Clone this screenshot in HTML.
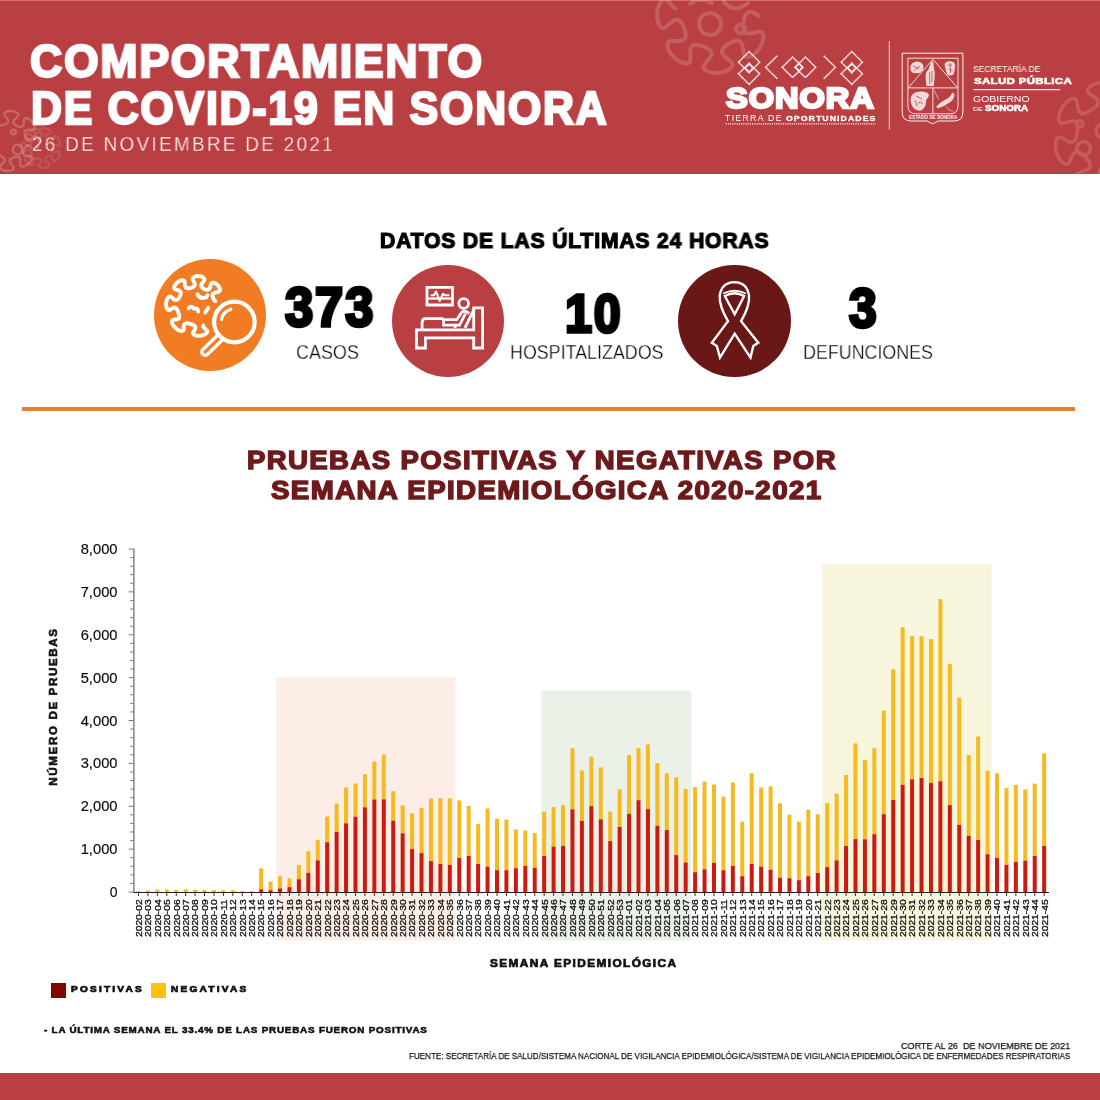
<!DOCTYPE html>
<html lang="es"><head><meta charset="utf-8"><title>COVID-19 Sonora</title>
<style>
html,body{margin:0;padding:0;background:#fff}
body{width:1100px;height:1100px;position:relative;overflow:hidden;font-family:"Liberation Sans",sans-serif}
.t{position:absolute;white-space:nowrap;line-height:1;transform-origin:0 0;font-family:"Liberation Sans",sans-serif;will-change:transform;-webkit-font-smoothing:antialiased}
svg{position:absolute;left:0;top:0}
</style></head><body>
<div style="position:absolute;left:0;top:0;width:1100px;height:174px;background:#ba3f42"></div>
<div style="position:absolute;left:0;top:0;width:1100px;height:1px;background:#d8706c"></div>
<div style="position:absolute;left:0;top:1073px;width:1100px;height:27px;background:#ba3f42"></div>
<svg width="1100" height="174" viewBox="0 0 1100 174" style="position:absolute;left:0;top:0" fill="none" stroke="#fff" stroke-linecap="round" stroke-linejoin="round">
<g opacity="0.16" stroke-width="4.0">
<path d="M758.83,15.81 L758.18,15.42 L757.52,15.01 L756.86,14.61 L756.19,14.21 L755.52,13.83 L754.85,13.47 L754.18,13.14 L753.52,12.85 L752.86,12.60 L752.22,12.39 L751.59,12.23 L750.98,12.13 L750.39,12.07 L749.82,12.08 L749.28,12.14 L748.76,12.25 L748.27,12.42 L747.81,12.65 L747.38,12.93 L746.97,13.26 L746.59,13.64 L746.24,14.06 L745.91,14.54 L745.61,15.05 L745.33,15.60 L745.07,16.19 L744.84,16.81 L744.62,17.46 L744.42,18.13 L744.23,18.82 L744.06,19.54 L743.90,20.26 L743.76,21.00 L743.64,21.74 L743.52,22.49 L743.43,23.23 L743.34,23.97 L743.28,24.70 L743.24,25.42 L743.21,26.13 L743.22,26.82 L743.24,27.49 L743.30,28.14 L743.38,28.76 L743.50,29.35 L743.65,29.91 L743.84,30.43 L744.08,30.92 L744.35,31.37 L744.66,31.78 L745.02,32.15 L745.42,32.48 L745.86,32.76 L746.35,33.00 L746.88,33.19 L747.44,33.34 L748.04,33.44 L748.68,33.50 L749.35,33.51 L750.04,33.48 L750.76,33.42 L751.49,33.32 L752.24,33.20 L752.99,33.05 L753.75,32.88 L754.51,32.70 L755.26,32.52 L756.00,32.34 L756.73,32.17 L757.44,32.03 L758.13,31.91 L758.79,31.83 L759.42,31.80 L760.02,31.82 L760.59,31.90 L761.11,32.04 L761.60,32.26 L762.03,32.56 L762.42,32.94 L762.76,33.41 L763.04,33.96 L763.26,34.60 L763.41,35.32 L763.50,36.12 L763.52,37.00 L763.47,37.95 L763.34,38.97 L763.13,40.04 L762.84,41.15 L762.47,42.31 L762.02,43.48 L761.50,44.67 L760.91,45.85 L760.24,47.03 L759.52,48.18 L758.74,49.29 L757.91,50.36 L757.04,51.37 L756.14,52.32 L755.22,53.19 L754.29,53.98 L753.36,54.69 L752.45,55.30 L751.55,55.83 L750.68,56.26 L749.85,56.60 L749.06,56.84 L748.32,56.98 L747.63,57.04 L747.00,57.01 L746.43,56.89 L745.91,56.69 L745.46,56.42 L745.06,56.07 L744.71,55.65 L744.42,55.17 L744.17,54.64 L743.95,54.05 L743.77,53.42 L743.62,52.74 L743.48,52.04 L743.36,51.31 L743.25,50.55 L743.14,49.79 L743.02,49.02 L742.89,48.25 L742.75,47.50 L742.59,46.75 L742.42,46.03 L742.21,45.33 L741.98,44.67 L741.73,44.05 L741.44,43.47 L741.13,42.94 L740.79,42.45 L740.42,42.02 L740.03,41.65 L739.61,41.33 L739.16,41.07 L738.69,40.86 L738.19,40.71 L737.68,40.61 L737.14,40.57 L736.59,40.58 L736.02,40.63 L735.43,40.73 L734.82,40.88 L734.21,41.06 L733.58,41.28 L732.94,41.53 L732.30,41.81 L731.65,42.11 L730.99,42.44 L730.33,42.79 L729.68,43.15 L729.03,43.53 L728.39,43.93 L727.75,44.33 L727.14,44.75 L726.53,45.17 L725.95,45.60 L725.40,46.04 L724.87,46.48 L724.38,46.93 L723.92,47.39 L723.50,47.85 L723.13,48.32 L722.80,48.80 L722.53,49.29 L722.30,49.78 L722.13,50.28 L722.02,50.78 L721.97,51.29 L721.98,51.81 L722.05,52.33 L722.19,52.86 L722.38,53.38 L722.64,53.91 L722.95,54.44 L723.32,54.96 L723.74,55.48 L724.21,56.00 L724.72,56.50 L725.26,57.00 L725.84,57.49 L726.44,57.97 L727.06,58.45 L727.68,58.91 L728.31,59.37 L728.92,59.82 L729.51,60.28 L730.08,60.72 L730.61,61.18 L731.09,61.63 L731.52,62.10 L731.89,62.57 L732.19,63.05 L732.41,63.55 L732.55,64.06 L732.60,64.59 L732.55,65.13 L732.40,65.69 L732.16,66.26 L731.80,66.84 L731.35,67.42 L730.78,68.01 L730.12,68.59 L729.35,69.16 L728.48,69.71 L727.52,70.23 L726.48,70.73 L725.36,71.18 L724.17,71.60 L722.92,71.96 L721.63,72.26 L720.30,72.50 L718.95,72.68 L717.60,72.80 L716.25,72.84 L714.91,72.83 L713.61,72.74 L712.36,72.60 L711.16,72.39 L710.02,72.13 L708.96,71.82 L707.99,71.47 L707.10,71.08 L706.32,70.66 L705.63,70.21 L705.05,69.73 L704.57,69.24 L704.19,68.74 L703.92,68.22 L703.74,67.70 L703.67,67.18 L703.68,66.65 L703.78,66.11 L703.96,65.58 L704.21,65.04 L704.53,64.50 L704.90,63.95 L705.32,63.40 L705.78,62.84 L706.26,62.28 L706.76,61.71 L707.28,61.13 L707.79,60.55 L708.30,59.96 L708.79,59.37 L709.25,58.77 L709.69,58.16 L710.09,57.56 L710.45,56.96 L710.76,56.36 L711.02,55.77 L711.22,55.19 L711.37,54.62 L711.46,54.06 L711.49,53.52 L711.46,52.99 L711.37,52.48 L711.23,51.99 L711.02,51.52 L710.76,51.06 L710.45,50.62 L710.08,50.20 L709.67,49.80 L709.21,49.42 L708.71,49.05 L708.17,48.69 L707.60,48.35 L707.00,48.03 L706.37,47.71 L705.72,47.41 L705.04,47.12 L704.35,46.84 L703.65,46.58 L702.94,46.32 L702.23,46.08 L701.51,45.86 L700.80,45.65 L700.09,45.47 L699.38,45.30 L698.69,45.16 L698.02,45.04 L697.35,44.95 L696.71,44.90 L696.09,44.88 L695.49,44.90 L694.91,44.95 L694.36,45.06 L693.84,45.20 L693.36,45.40 L692.90,45.64 L692.48,45.93 L692.09,46.27 L691.74,46.67 L691.42,47.11 L691.15,47.60 L690.91,48.14 L690.71,48.72 L690.54,49.34 L690.42,50.00 L690.33,50.69 L690.27,51.40 L690.24,52.14 L690.24,52.90 L690.25,53.67 L690.29,54.45 L690.33,55.23 L690.38,56.00 L690.43,56.76 L690.46,57.50 L690.48,58.22 L690.48,58.92 L690.44,59.58 L690.36,60.21 L690.23,60.79 L690.05,61.33 L689.80,61.81 L689.50,62.25 L689.12,62.62 L688.67,62.93 L688.15,63.17 L687.55,63.35 L686.87,63.45 L686.13,63.47 L685.32,63.41 L684.44,63.26 L683.51,63.04 L682.53,62.72 L681.51,62.32 L680.45,61.84 L679.38,61.27 L678.30,60.61 L677.23,59.89 L676.16,59.09 L675.13,58.23 L674.12,57.31 L673.17,56.34 L672.26,55.33 L671.43,54.30 L670.66,53.25 L669.97,52.19 L669.36,51.14 L668.83,50.11 L668.39,49.10 L668.04,48.13 L667.77,47.20 L667.59,46.33 L667.50,45.52 L667.49,44.77 L667.56,44.09 L667.71,43.48 L667.93,42.94 L668.23,42.48 L668.58,42.09 L669.00,41.76 L669.48,41.50 L670.01,41.29 L670.58,41.14 L671.20,41.04 L671.86,40.97 L672.55,40.94 L673.27,40.93 L674.02,40.94 L674.78,40.96 L675.55,40.99 L676.33,41.00 L677.10,41.01 L677.88,41.00 L678.63,40.97 L679.38,40.92 L680.09,40.84 L680.78,40.73 L681.44,40.58 L682.05,40.40 L682.63,40.18 L683.16,39.92 L683.64,39.63 L684.07,39.30 L684.46,38.94 L684.79,38.54 L685.07,38.11 L685.30,37.65 L685.48,37.15 L685.61,36.63 L685.69,36.08 L685.73,35.50 L685.73,34.91 L685.69,34.28 L685.61,33.64 L685.51,32.99 L685.37,32.31 L685.20,31.63 L685.01,30.93 L684.80,30.23 L684.57,29.52 L684.32,28.82 L684.06,28.11 L683.78,27.41 L683.49,26.72 L683.19,26.04 L682.88,25.37 L682.55,24.73 L682.22,24.11 L681.87,23.52 L681.51,22.96 L681.14,22.43 L680.75,21.94 L680.35,21.49 L679.94,21.09 L679.51,20.74 L679.06,20.44 L678.60,20.19 L678.12,20.00 L677.62,19.87 L677.11,19.80 L676.58,19.78 L676.04,19.83 L675.48,19.93 L674.92,20.10 L674.35,20.32 L673.77,20.60 L673.18,20.93 L672.59,21.30 L672.01,21.72 L671.42,22.18 L670.84,22.66 L670.26,23.17 L669.69,23.70 L669.12,24.23 L668.56,24.77 L668.01,25.29 L667.46,25.80 L666.92,26.27 L666.39,26.71 L665.85,27.10 L665.32,27.44 L664.79,27.72 L664.26,27.92 L663.74,28.04 L663.21,28.08 L662.68,28.03 L662.15,27.88 L661.63,27.63 L661.11,27.27 L660.60,26.82 L660.11,26.25 L659.63,25.59 L659.18,24.82 L658.76,23.95 L658.37,23.00 L658.02,21.95 L657.72,20.83 L657.47,19.64 L657.28,18.39 L657.15,17.10 L657.08,15.77 L657.08,14.42 L657.14,13.06 L657.27,11.71 L657.46,10.37 L657.72,9.07 L658.03,7.80 L658.40,6.60 L658.81,5.46 L659.27,4.39 L659.76,3.41 L660.28,2.52 L660.82,1.73 L661.37,1.04 L661.94,0.45 L662.51,-0.03 L663.07,-0.41 L663.63,-0.68 L664.19,-0.85 L664.73,-0.92 L665.26,-0.90 L665.78,-0.78 L666.28,-0.58 L666.78,-0.30 L667.26,0.04 L667.74,0.45 L668.21,0.92 L668.68,1.43 L669.15,1.98 L669.62,2.56 L670.10,3.15 L670.58,3.76 L671.06,4.37 L671.56,4.97 L672.06,5.55 L672.57,6.11 L673.09,6.64 L673.61,7.14 L674.14,7.59 L674.67,7.99 L675.21,8.35 L675.75,8.64"/>
<circle cx="710" cy="24" r="11"/><circle cx="740.5" cy="29" r="4.4"/>
<path d="M690,4 Q700,-4 712,3"/><path d="M724,2 Q734,14 748,3"/>
</g><g opacity="0.15" stroke-width="3.5">
<path d="M1119.65,176.12 L1119.88,175.41 L1120.08,174.70 L1120.25,174.01 L1120.37,173.34 L1120.45,172.68 L1120.48,172.06 L1120.46,171.46 L1120.39,170.90 L1120.26,170.38 L1120.08,169.89 L1119.85,169.44 L1119.56,169.03 L1119.22,168.66 L1118.82,168.33 L1118.38,168.05 L1117.90,167.80 L1117.36,167.58 L1116.79,167.40 L1116.18,167.25 L1115.53,167.14 L1114.86,167.04 L1114.15,166.98 L1113.42,166.93 L1112.67,166.90 L1111.90,166.90 L1111.12,166.90 L1110.34,166.93 L1109.55,166.96 L1108.76,167.01 L1107.98,167.07 L1107.20,167.15 L1106.45,167.24 L1105.71,167.35 L1104.99,167.47 L1104.30,167.62 L1103.64,167.78 L1103.02,167.97 L1102.43,168.19 L1101.89,168.43 L1101.39,168.71 L1100.94,169.01 L1100.55,169.35 L1100.20,169.73 L1099.91,170.14 L1099.68,170.58 L1099.50,171.06 L1099.38,171.57 L1099.32,172.11 L1099.32,172.68 L1099.37,173.28 L1099.47,173.90 L1099.63,174.55 L1099.83,175.21 L1100.08,175.88 L1100.35,176.56 L1100.66,177.25 L1100.99,177.93 L1101.34,178.62 L1101.68,179.30 L1102.03,179.97 L1102.36,180.63 L1102.66,181.27 L1102.93,181.90 L1103.15,182.51 L1103.32,183.10 L1103.43,183.67 L1103.46,184.22 L1103.42,184.74 L1103.29,185.23 L1103.06,185.70 L1102.74,186.13 L1102.31,186.52 L1101.79,186.88 L1101.16,187.19 L1100.43,187.46 L1099.60,187.67 L1098.68,187.82 L1097.68,187.91 L1096.60,187.94 L1095.45,187.90 L1094.25,187.78 L1093.00,187.59 L1091.72,187.32 L1090.42,186.98 L1089.12,186.57 L1087.83,186.09 L1086.57,185.55 L1085.34,184.95 L1084.17,184.29 L1083.06,183.60 L1082.02,182.87 L1081.06,182.12 L1080.20,181.35 L1079.43,180.58 L1078.76,179.82 L1078.20,179.07 L1077.74,178.34 L1077.39,177.64 L1077.14,176.98 L1077.00,176.35 L1076.96,175.77 L1077.02,175.23 L1077.17,174.73 L1077.41,174.28 L1077.74,173.87 L1078.13,173.50 L1078.60,173.16 L1079.13,172.85 L1079.71,172.56 L1080.33,172.30 L1081.00,172.04 L1081.69,171.80 L1082.40,171.55 L1083.12,171.31 L1083.84,171.06 L1084.56,170.79 L1085.26,170.51 L1085.94,170.22 L1086.58,169.91 L1087.19,169.57 L1087.75,169.22 L1088.27,168.85 L1088.73,168.46 L1089.13,168.04 L1089.47,167.61 L1089.74,167.17 L1089.95,166.70 L1090.10,166.22 L1090.18,165.73 L1090.19,165.22 L1090.15,164.70 L1090.04,164.17 L1089.88,163.63 L1089.67,163.07 L1089.40,162.51 L1089.09,161.94 L1088.73,161.37 L1088.34,160.79 L1087.91,160.20 L1087.46,159.61 L1086.98,159.02 L1086.48,158.42 L1085.96,157.83 L1085.43,157.25 L1084.89,156.67 L1084.34,156.11 L1083.78,155.56 L1083.22,155.03 L1082.67,154.53 L1082.11,154.05 L1081.55,153.61 L1081.00,153.20 L1080.46,152.83 L1079.91,152.51 L1079.38,152.24 L1078.84,152.02 L1078.32,151.85 L1077.80,151.75 L1077.29,151.70 L1076.79,151.73 L1076.30,151.81 L1075.81,151.97 L1075.34,152.19 L1074.88,152.47 L1074.44,152.82 L1074.01,153.23 L1073.60,153.69 L1073.20,154.21 L1072.82,154.78 L1072.46,155.39 L1072.11,156.03 L1071.78,156.70 L1071.46,157.39 L1071.15,158.09 L1070.86,158.80 L1070.56,159.49 L1070.27,160.18 L1069.97,160.83 L1069.67,161.45 L1069.35,162.03 L1069.01,162.56 L1068.65,163.02 L1068.26,163.42 L1067.84,163.74 L1067.39,163.98 L1066.90,164.13 L1066.37,164.19 L1065.80,164.15 L1065.20,164.00 L1064.57,163.75 L1063.90,163.39 L1063.22,162.93 L1062.51,162.35 L1061.80,161.67 L1061.08,160.89 L1060.37,160.01 L1059.68,159.03 L1059.02,157.98 L1058.39,156.84 L1057.80,155.65 L1057.26,154.40 L1056.79,153.11 L1056.37,151.80 L1056.02,150.47 L1055.75,149.15 L1055.55,147.85 L1055.42,146.57 L1055.36,145.34 L1055.37,144.17 L1055.45,143.07 L1055.59,142.04 L1055.78,141.10 L1056.03,140.25 L1056.33,139.51 L1056.67,138.86 L1057.05,138.32 L1057.47,137.89 L1057.91,137.56 L1058.38,137.33 L1058.87,137.20 L1059.39,137.15 L1059.92,137.20 L1060.48,137.32 L1061.05,137.50 L1061.64,137.75 L1062.24,138.05 L1062.86,138.38 L1063.49,138.75 L1064.13,139.13 L1064.78,139.53 L1065.43,139.92 L1066.10,140.30 L1066.76,140.67 L1067.42,141.01 L1068.08,141.31 L1068.73,141.57 L1069.36,141.79 L1069.98,141.96 L1070.58,142.08 L1071.16,142.13 L1071.72,142.13 L1072.25,142.07 L1072.75,141.95 L1073.22,141.77 L1073.66,141.53 L1074.06,141.23 L1074.44,140.88 L1074.79,140.47 L1075.11,140.01 L1075.40,139.51 L1075.66,138.96 L1075.90,138.36 L1076.12,137.73 L1076.32,137.06 L1076.50,136.37 L1076.67,135.65 L1076.82,134.90 L1076.95,134.14 L1077.08,133.37 L1077.18,132.59 L1077.28,131.80 L1077.36,131.02 L1077.43,130.24 L1077.48,129.47 L1077.52,128.71 L1077.53,127.97 L1077.52,127.26 L1077.49,126.56 L1077.42,125.90 L1077.33,125.27 L1077.20,124.67 L1077.04,124.11 L1076.84,123.59 L1076.60,123.11 L1076.32,122.68 L1075.99,122.30 L1075.62,121.96 L1075.20,121.68 L1074.75,121.44 L1074.24,121.26 L1073.70,121.13 L1073.12,121.05 L1072.51,121.02 L1071.86,121.03 L1071.19,121.10 L1070.50,121.20 L1069.79,121.34 L1069.06,121.51 L1068.33,121.70 L1067.60,121.91 L1066.86,122.14 L1066.14,122.36 L1065.42,122.58 L1064.73,122.78 L1064.05,122.95 L1063.39,123.09 L1062.77,123.19 L1062.17,123.23 L1061.60,123.20 L1061.08,123.11 L1060.59,122.94 L1060.14,122.68 L1059.75,122.34 L1059.40,121.91 L1059.11,121.38 L1058.88,120.76 L1058.71,120.04 L1058.60,119.24 L1058.57,118.36 L1058.61,117.39 L1058.73,116.36 L1058.93,115.26 L1059.21,114.12 L1059.56,112.94 L1060.00,111.73 L1060.52,110.51 L1061.11,109.30 L1061.77,108.10 L1062.50,106.93 L1063.28,105.79 L1064.10,104.72 L1064.96,103.70 L1065.85,102.76 L1066.75,101.90 L1067.66,101.13 L1068.56,100.46 L1069.44,99.88 L1070.30,99.39 L1071.12,99.01 L1071.89,98.73 L1072.62,98.55 L1073.29,98.47 L1073.91,98.48 L1074.46,98.59 L1074.96,98.77 L1075.39,99.05 L1075.77,99.39 L1076.10,99.81 L1076.38,100.30 L1076.61,100.84 L1076.81,101.44 L1076.98,102.08 L1077.12,102.76 L1077.25,103.47 L1077.37,104.20 L1077.48,104.95 L1077.60,105.70 L1077.73,106.46 L1077.87,107.20 L1078.03,107.93 L1078.22,108.64 L1078.42,109.31 L1078.66,109.95 L1078.92,110.55 L1079.21,111.10 L1079.53,111.60 L1079.88,112.04 L1080.26,112.42 L1080.66,112.74 L1081.09,113.00 L1081.55,113.20 L1082.04,113.34 L1082.54,113.42 L1083.07,113.44 L1083.62,113.40 L1084.19,113.31 L1084.78,113.18 L1085.39,112.99 L1086.01,112.76 L1086.64,112.50 L1087.29,112.20 L1087.95,111.87 L1088.61,111.51 L1089.28,111.13 L1089.95,110.73 L1090.62,110.32 L1091.29,109.89 L1091.94,109.45 L1092.59,109.01 L1093.21,108.55 L1093.82,108.09 L1094.40,107.63 L1094.96,107.16 L1095.48,106.69 L1095.96,106.22 L1096.39,105.74 L1096.79,105.26 L1097.12,104.78 L1097.41,104.29 L1097.64,103.80 L1097.80,103.31 L1097.90,102.81 L1097.94,102.31 L1097.91,101.81 L1097.81,101.31 L1097.65,100.81 L1097.42,100.31 L1097.13,99.81 L1096.77,99.32 L1096.36,98.83 L1095.90,98.36 L1095.38,97.89 L1094.83,97.43 L1094.24,96.98 L1093.63,96.54 L1093.00,96.11 L1092.36,95.69 L1091.72,95.28 L1091.09,94.87 L1090.48,94.47 L1089.90,94.06 L1089.36,93.65 L1088.87,93.23 L1088.43,92.80 L1088.07,92.36 L1087.78,91.90 L1087.57,91.42 L1087.45,90.92 L1087.43,90.41 L1087.52,89.87 L1087.70,89.31 L1088.00,88.73 L1088.40,88.15 L1088.92,87.55 L1089.55,86.96 L1090.28,86.37 L1091.12,85.79 L1092.06,85.23 L1093.09,84.70 L1094.21,84.20 L1095.40,83.75 L1096.65,83.35 L1097.95,83.00 L1099.28,82.72 L1100.64,82.50 L1102.01,82.35 L1103.37,82.27 L1104.71,82.26 L1106.01,82.32 L1107.27,82.44 L1108.46,82.62 L1109.58,82.86 L1110.61,83.15 L1111.56,83.49 L1112.41,83.86 L1113.15,84.27 L1113.79,84.70 L1114.31,85.16 L1114.73,85.63 L1115.04,86.12 L1115.24,86.62 L1115.34,87.13 L1115.34,87.64 L1115.26,88.16 L1115.08,88.68 L1114.84,89.21 L1114.53,89.74 L1114.16,90.28 L1113.74,90.82 L1113.29,91.37 L1112.81,91.93 L1112.31,92.50 L1111.81,93.08 L1111.31,93.66 L1110.83,94.25 L1110.36,94.84 L1109.93,95.43 L1109.53,96.02 L1109.18,96.61 L1108.88,97.20 L1108.63,97.78 L1108.44,98.35 L1108.31,98.90 L1108.24,99.44 L1108.23,99.96 L1108.29,100.47 L1108.42,100.95 L1108.61,101.42 L1108.86,101.86 L1109.16,102.29 L1109.53,102.69 L1109.95,103.08 L1110.42,103.44 L1110.94,103.79 L1111.50,104.13 L1112.10,104.45 L1112.74,104.75 L1113.41,105.05 L1114.10,105.33 L1114.81,105.60 L1115.55,105.86 L1116.29,106.11 L1117.05,106.35 L1117.80,106.57 L1118.56,106.78 L1119.31,106.98 L1120.06,107.15 L1120.79,107.31 L1121.51,107.44 L1122.21,107.54"/>
<circle cx="1083.6" cy="148.5" r="6.8"/><circle cx="1079.8" cy="124" r="3.3"/><circle cx="1103" cy="131" r="7"/>
</g><g opacity="0.2" stroke-width="2.4">
<path d="M-3.72,115.52 L-3.30,115.66 L-2.94,115.87 L-2.66,116.14 L-2.45,116.47 L-2.31,116.84 L-2.21,117.26 L-2.17,117.72 L-2.16,118.22 L-2.18,118.74 L-2.22,119.28 L-2.26,119.83 L-2.30,120.39 L-2.33,120.94 L-2.34,121.49 L-2.32,122.01 L-2.27,122.52 L-2.19,122.99 L-2.07,123.43 L-1.91,123.83 L-1.71,124.18 L-1.47,124.48 L-1.20,124.74 L-0.89,124.95 L-0.54,125.11 L-0.17,125.23 L0.23,125.30 L0.66,125.34 L1.11,125.33 L1.58,125.30 L2.06,125.23 L2.56,125.14 L3.06,125.02 L3.56,124.89 L4.06,124.73 L4.55,124.56 L5.04,124.37 L5.50,124.17 L5.94,123.95 L6.36,123.72 L6.74,123.47 L7.08,123.20 L7.38,122.91 L7.64,122.61 L7.84,122.29 L7.99,121.94 L8.09,121.58 L8.12,121.20 L8.10,120.80 L8.02,120.39 L7.89,119.96 L7.70,119.53 L7.46,119.09 L7.19,118.65 L6.88,118.21 L6.54,117.77 L6.19,117.33 L5.84,116.90 L5.49,116.48 L5.17,116.06 L4.88,115.65 L4.64,115.25 L4.45,114.85 L4.33,114.46 L4.29,114.07 L4.34,113.68 L4.48,113.31 L4.72,112.94 L5.05,112.59 L5.49,112.26 L6.02,111.96 L6.64,111.69 L7.35,111.46 L8.13,111.27 L8.97,111.15 L9.85,111.08 L10.76,111.07 L11.69,111.12 L12.60,111.24 L13.49,111.41 L14.34,111.64 L15.14,111.92 L15.86,112.24 L16.50,112.60 L17.06,112.97 L17.51,113.37 L17.87,113.77 L18.12,114.17 L18.28,114.57 L18.34,114.97 L18.30,115.35 L18.18,115.73 L17.99,116.09 L17.73,116.45 L17.41,116.81 L17.04,117.16 L16.65,117.51 L16.23,117.87 L15.81,118.23 L15.39,118.60 L14.99,118.98 L14.61,119.36 L14.27,119.75 L13.97,120.14 L13.71,120.54 L13.52,120.93 L13.38,121.32 L13.29,121.71 L13.27,122.09 L13.31,122.46 L13.41,122.83 L13.56,123.18 L13.77,123.52 L14.02,123.85 L14.32,124.18 L14.66,124.49 L15.03,124.79 L15.43,125.08 L15.86,125.35 L16.30,125.62 L16.76,125.87 L17.23,126.11 L17.70,126.33 L18.17,126.53 L18.64,126.70 L19.11,126.85 L19.56,126.96 L20.00,127.03 L20.42,127.07 L20.83,127.06 L21.21,127.00 L21.58,126.89 L21.91,126.73 L22.22,126.52 L22.51,126.25 L22.76,125.93 L22.98,125.56 L23.17,125.14 L23.33,124.68 L23.46,124.19 L23.57,123.67 L23.65,123.13 L23.72,122.58 L23.78,122.02 L23.83,121.47 L23.89,120.94 L23.96,120.43 L24.06,119.95 L24.19,119.51 L24.36,119.12 L24.58,118.78 L24.85,118.51 L25.18,118.30 L25.57,118.17 L26.03,118.11 L26.54,118.14 L27.11,118.26 L27.72,118.46 L28.36,118.75 L29.04,119.13 L29.72,119.59 L30.40,120.12 L31.07,120.73 L31.70,121.39 L32.29,122.10 L32.83,122.85 L33.31,123.61 L33.71,124.37 L34.04,125.12 L34.29,125.85 L34.46,126.53 L34.54,127.16 L34.55,127.74 L34.49,128.24 L34.35,128.67 L34.15,129.03 L33.88,129.32 L33.56,129.53 L33.19,129.69 L32.77,129.78 L32.31,129.83 L31.82,129.84 L31.30,129.82 L30.77,129.78 L30.21,129.74 L29.66,129.70 L29.10,129.67 L28.56,129.66 L28.03,129.68 L27.52,129.72 L27.04,129.81 L26.60,129.92 L26.20,130.08 L25.85,130.28 L25.54,130.51 L25.28,130.78 L25.06,131.09 L24.90,131.43 L24.78,131.80 L24.70,132.20 L24.66,132.63 L24.66,133.08 L24.70,133.54 L24.76,134.02 L24.85,134.52 L24.97,135.02 L25.10,135.52 L25.26,136.02 L25.43,136.52 L25.61,137.00 L25.81,137.47 L26.03,137.91 L26.26,138.33 L26.51,138.71 L26.78,139.06 L27.06,139.36 L27.37,139.62 L27.69,139.83 L28.03,139.98 L28.39,140.08 L28.77,140.12 L29.17,140.10 L29.58,140.03 L30.00,139.90 L30.44,139.72 L30.88,139.48 L31.32,139.21 L31.76,138.90 L32.20,138.57 L32.64,138.22 L33.07,137.87 L33.49,137.52 L33.91,137.19 L34.32,136.90 L34.72,136.65 L35.12,136.46 L35.51,136.34 L35.90,136.29 L36.29,136.33 L36.67,136.46 L37.03,136.69 L37.38,137.02 L37.72,137.45 L38.02,137.98 L38.29,138.59 L38.53,139.29 L38.71,140.07 L38.85,140.90 L38.92,141.78 L38.94,142.69 L38.89,143.61 L38.77,144.53 L38.60,145.42 L38.38,146.28 L38.10,147.08 L37.78,147.81 L37.43,148.46 L37.06,149.02 L36.66,149.48 L36.26,149.85 L35.86,150.11 L35.46,150.27 L35.06,150.34 L34.68,150.31 L34.30,150.20 L33.94,150.01 L33.58,149.75 L33.22,149.43 L32.87,149.07 L32.51,148.68 L32.16,148.27 L31.79,147.84 L31.43,147.42 L31.05,147.02 L30.67,146.64 L30.28,146.29 L29.89,145.99 L29.49,145.73 L29.10,145.53 L28.71,145.38 L28.32,145.30 L27.94,145.27 L27.56,145.31 L27.20,145.40 L26.85,145.55 L26.50,145.75 L26.17,146.00 L25.85,146.30 L25.54,146.63 L25.24,147.00 L24.95,147.40 L24.67,147.82 L24.40,148.27 L24.14,148.72 L23.91,149.19 L23.69,149.66 L23.49,150.14 L23.31,150.61 L23.16,151.07 L23.05,151.52 L22.97,151.97 L22.93,152.39 L22.94,152.80 L22.99,153.19 L23.10,153.55 L23.26,153.89 L23.47,154.20 L23.73,154.49 L24.05,154.74 L24.41,154.96 L24.83,155.16 L25.28,155.32 L25.77,155.45 L26.29,155.56 L26.83,155.65 L27.38,155.72 L27.94,155.77 L28.49,155.83 L29.02,155.88 L29.54,155.96 L30.02,156.05 L30.46,156.18 L30.85,156.34 L31.20,156.56 L31.47,156.83 L31.69,157.15 L31.82,157.54 L31.88,157.99 L31.86,158.50 L31.75,159.06 L31.56,159.67 L31.27,160.31 L30.90,160.98 L30.45,161.67 L29.92,162.35 L29.32,163.02 L28.66,163.65 L27.95,164.25 L27.21,164.79 L26.45,165.27 L25.69,165.68 L24.93,166.02 L24.21,166.27 L23.52,166.45 L22.88,166.54 L22.31,166.56 L21.80,166.49 L21.36,166.36 L20.99,166.16 L20.70,165.90 L20.48,165.59 L20.32,165.22 L20.22,164.80 L20.17,164.35 L20.16,163.86 L20.18,163.34 L20.21,162.81 L20.26,162.26 L20.30,161.70 L20.33,161.14 L20.34,160.60 L20.32,160.07 L20.28,159.56 L20.20,159.08 L20.09,158.64 L19.93,158.23 L19.74,157.87 L19.51,157.56 L19.24,157.30 L18.94,157.08 L18.60,156.91 L18.23,156.78 L17.83,156.70 L17.41,156.67 L16.96,156.66 L16.49,156.69 L16.01,156.76 L15.52,156.85 L15.02,156.96 L14.52,157.09 L14.02,157.24 L13.52,157.41 L13.04,157.60 L12.57,157.80 L12.12,158.01 L11.71,158.25 L11.32,158.49 L10.97,158.76 L10.66,159.04 L10.40,159.34 L10.19,159.66 L10.03,160.00 L9.93,160.36 L9.88,160.74 L9.89,161.14 L9.96,161.55 L10.09,161.97 L10.27,162.40 L10.50,162.84 L10.77,163.28 L11.07,163.73 L11.41,164.17 L11.75,164.60 L12.11,165.03 L12.45,165.46 L12.78,165.87 L13.08,166.29 L13.33,166.69 L13.53,167.09 L13.66,167.48 L13.71,167.87 L13.67,168.26 L13.55,168.64 L13.33,169.00 L13.01,169.36 L12.59,169.69 L12.07,170.00 L11.46,170.27 L10.76,170.51 L9.99,170.70 L9.16,170.84 L8.29,170.92 L7.38,170.94 L6.46,170.89 L5.54,170.78 L4.64,170.62 L3.79,170.40 L2.98,170.12 L2.25,169.81 L1.59,169.46 L1.02,169.09 L0.55,168.69 L0.18,168.29 L-0.09,167.89 L-0.26,167.49 L-0.33,167.09 L-0.31,166.71 L-0.21,166.33 L-0.02,165.96 L0.23,165.60 L0.54,165.25 L0.90,164.89 L1.29,164.54 L1.70,164.18 L2.12,163.82 L2.54,163.45 L2.95,163.08 L3.33,162.70 L3.68,162.31 L3.99,161.92 L4.25,161.52 L4.46,161.13 L4.61,160.74 L4.70,160.35 L4.73,159.97 L4.70,159.59 L4.61,159.23 L4.46,158.87 L4.27,158.53 L4.02,158.20 L3.73,157.87 L3.40,157.56 L3.03,157.26 L2.63,156.97 L2.21,156.69 L1.77,156.42 L1.31,156.16 L0.84,155.92 L0.37,155.70 L-0.10,155.50 L-0.57,155.32 L-1.03,155.18 L-1.49,155.06 L-1.93,154.98 L-2.36,154.94 L-2.77,154.94 L-3.16,154.99 L-3.52,155.09 L-3.86,155.24 L-4.18,155.45 L-4.47,155.71 L-4.72,156.02 L-4.95,156.38 L-5.14,156.79 L-5.31,157.24 L-5.44,157.73 L-5.55,158.25 L-5.64,158.79 L-5.71,159.34 L-5.77,159.89 L-5.82,160.44 L-5.88,160.98 L-5.95,161.50 L-6.04,161.98 L-6.17,162.43 L-6.33,162.83 L-6.54,163.17 L-6.80,163.46 L-7.13,163.67 L-7.51,163.82 L-7.95,163.88"/>
<circle cx="13.5" cy="132" r="2.4"/><circle cx="17.6" cy="149.6" r="4.8"/>
</g><g opacity="0.11" stroke-width="2.2">
<path d="M21.00,148.00 L21.04,147.15 L21.14,146.32 L21.31,145.54 L21.53,144.83 L21.79,144.20 L22.09,143.67 L22.41,143.24 L22.74,142.92 L23.07,142.72 L23.40,142.62 L23.72,142.63 L24.04,142.73 L24.35,142.90 L24.65,143.15 L24.95,143.45 L25.25,143.78 L25.56,144.14 L25.88,144.49 L26.20,144.84 L26.53,145.16 L26.87,145.44 L27.21,145.68 L27.55,145.86 L27.88,145.98 L28.21,146.04 L28.52,146.03 L28.83,145.96 L29.12,145.83 L29.40,145.64 L29.67,145.40 L29.93,145.12 L30.18,144.79 L30.42,144.43 L30.65,144.05 L30.88,143.64 L31.09,143.22 L31.29,142.80 L31.48,142.38 L31.64,141.95 L31.78,141.54 L31.89,141.14 L31.97,140.76 L32.00,140.39 L31.99,140.05 L31.92,139.73 L31.80,139.44 L31.62,139.18 L31.39,138.95 L31.10,138.75 L30.76,138.59 L30.38,138.46 L29.95,138.37 L29.50,138.30 L29.03,138.25 L28.56,138.22 L28.09,138.20 L27.63,138.16 L27.20,138.12 L26.81,138.04 L26.47,137.92 L26.19,137.74 L25.97,137.50 L25.82,137.20 L25.76,136.83 L25.79,136.39 L25.90,135.88 L26.12,135.33 L26.43,134.74 L26.84,134.13 L27.33,133.52 L27.90,132.92 L28.54,132.36 L29.22,131.85 L29.93,131.40 L30.65,131.04 L31.36,130.75 L32.03,130.56 L32.64,130.44 L33.19,130.42 L33.66,130.46 L34.05,130.59 L34.35,130.77 L34.56,131.02 L34.69,131.31 L34.76,131.66 L34.76,132.04 L34.72,132.45 L34.65,132.90 L34.56,133.35 L34.47,133.82 L34.39,134.29 L34.34,134.75 L34.31,135.20 L34.33,135.61 L34.38,136.00 L34.48,136.35 L34.63,136.65 L34.82,136.91 L35.06,137.11 L35.33,137.27 L35.64,137.39 L35.99,137.46 L36.37,137.50 L36.78,137.50 L37.20,137.48 L37.65,137.43 L38.10,137.36 L38.56,137.27 L39.02,137.17 L39.47,137.06 L39.91,136.93 L40.33,136.79 L40.72,136.64 L41.07,136.46 L41.39,136.27 L41.66,136.05 L41.88,135.81 L42.05,135.54 L42.16,135.25 L42.21,134.93 L42.20,134.59 L42.13,134.22 L42.01,133.84 L41.84,133.45 L41.62,133.06 L41.37,132.66 L41.11,132.26 L40.83,131.87 L40.57,131.49 L40.34,131.12 L40.15,130.76 L40.02,130.42 L39.96,130.08 L40.00,129.76 L40.12,129.46 L40.36,129.17 L40.69,128.91 L41.14,128.69 L41.69,128.51 L42.33,128.38 L43.04,128.31 L43.82,128.30 L44.63,128.37 L45.47,128.51 L46.30,128.72 L47.09,128.99 L47.84,129.32 L48.51,129.70 L49.10,130.10 L49.59,130.51 L49.98,130.93 L50.26,131.34 L50.42,131.72 L50.48,132.08 L50.44,132.40 L50.31,132.70 L50.09,132.96 L49.81,133.21 L49.47,133.43 L49.08,133.65 L48.67,133.86 L48.25,134.08 L47.83,134.30 L47.42,134.54 L47.05,134.79 L46.72,135.06 L46.44,135.33 L46.21,135.62 L46.05,135.92 L45.95,136.23 L45.92,136.54 L45.95,136.86 L46.04,137.18 L46.18,137.50 L46.38,137.82 L46.61,138.14 L46.89,138.46 L47.20,138.78 L47.52,139.09 L47.87,139.40 L48.23,139.71 L48.60,140.00 L48.97,140.27 L49.33,140.52 L49.70,140.74 L50.06,140.92 L50.41,141.06 L50.75,141.15 L51.08,141.19 L51.39,141.17 L51.70,141.09 L51.98,140.95 L52.25,140.74 L52.50,140.48 L52.73,140.16 L52.94,139.79 L53.12,139.38 L53.29,138.95 L53.44,138.50 L53.58,138.04 L53.71,137.60 L53.86,137.18 L54.02,136.80 L54.21,136.47 L54.43,136.20 L54.69,136.01 L55.00,135.90 L55.35,135.89 L55.76,135.98 L56.20,136.17 L56.67,136.46 L57.17,136.86 L57.67,137.36 L58.15,137.95 L58.61,138.62 L59.03,139.35 L59.38,140.13 L59.67,140.92 L59.89,141.72 L60.03,142.49 L60.09,143.21 L60.08,143.87 L60.01,144.45 L59.87,144.94 L59.68,145.33 L59.44,145.62 L59.17,145.81 L58.86,145.90 L58.53,145.91 L58.16,145.85 L57.78,145.73 L57.38,145.57 L56.96,145.38 L56.53,145.18 L56.09,144.99 L55.66,144.81 L55.23,144.66 L54.81,144.56 L54.41,144.49 L54.04,144.48 L53.70,144.53 L53.39,144.63 L53.11,144.78 L52.87,144.99 L52.67,145.24 L52.50,145.54 L52.36,145.89 L52.25,146.26 L52.16,146.67 L52.09,147.10 L52.04,147.56 L52.01,148.02 L51.99,148.49 L51.98,148.96 L51.99,149.42 L52.02,149.86 L52.07,150.29 L52.14,150.69 L52.23,151.06 L52.36,151.40 L52.53,151.69 L52.73,151.94 L52.97,152.14 L53.25,152.29 L53.57,152.39 L53.92,152.43 L54.31,152.42 L54.72,152.37 L55.15,152.27 L55.60,152.14 L56.05,151.98 L56.49,151.82 L56.93,151.65 L57.35,151.50 L57.76,151.38 L58.14,151.31 L58.49,151.31 L58.81,151.38 L59.09,151.54 L59.33,151.79 L59.53,152.14 L59.66,152.58 L59.74,153.12 L59.74,153.73 L59.67,154.42 L59.52,155.16 L59.29,155.93 L58.99,156.71 L58.61,157.47 L58.18,158.20 L57.69,158.88 L57.18,159.48 L56.65,159.99 L56.12,160.42 L55.61,160.73 L55.13,160.95 L54.69,161.06 L54.31,161.08 L53.98,161.00 L53.70,160.83 L53.48,160.59 L53.29,160.28 L53.15,159.92 L53.02,159.51 L52.91,159.07 L52.80,158.61 L52.69,158.14 L52.57,157.69 L52.42,157.25 L52.26,156.85 L52.07,156.49 L51.85,156.17 L51.61,155.92 L51.35,155.72 L51.06,155.58 L50.75,155.51 L50.43,155.49 L50.09,155.53 L49.74,155.62 L49.38,155.76 L49.00,155.93 L48.62,156.14 L48.24,156.38 L47.85,156.63 L47.47,156.90 L47.09,157.18 L46.73,157.47 L46.39,157.76 L46.07,158.06 L45.79,158.37 L45.55,158.67 L45.35,158.98 L45.21,159.29 L45.13,159.60 L45.10,159.91 L45.14,160.22 L45.25,160.54 L45.42,160.84 L45.65,161.15 L45.94,161.44 L46.27,161.72 L46.64,161.99 L47.03,162.25 L47.44,162.50 L47.84,162.75 L48.23,162.99 L48.58,163.23 L48.88,163.49 L49.12,163.76 L49.28,164.05 L49.35,164.36 L49.32,164.70 L49.19,165.06 L48.95,165.44 L48.60,165.83 L48.14,166.21 L47.57,166.59 L46.92,166.93 L46.19,167.24 L45.40,167.49 L44.57,167.68 L43.72,167.80 L42.89,167.85 L42.09,167.83 L41.34,167.74 L40.66,167.60 L40.08,167.40 L39.59,167.16 L39.21,166.90 L38.94,166.61 L38.77,166.30 L38.71,165.98 L38.74,165.66 L38.86,165.32 L39.04,164.98 L39.28,164.63 L39.55,164.28 L39.84,163.91 L40.14,163.54 L40.43,163.16 L40.69,162.78 L40.91,162.40 L41.09,162.03 L41.22,161.66 L41.29,161.31 L41.29,160.98 L41.24,160.66 L41.12,160.37 L40.95,160.10 L40.72,159.86 L40.44,159.63 L40.12,159.42 L39.76,159.23 L39.37,159.06 L38.95,158.89 L38.52,158.74 L38.07,158.60 L37.62,158.48 L37.16,158.37 L36.72,158.27 L36.29,158.21 L35.87,158.16 L35.48,158.15 L35.11,158.18 L34.77,158.25 L34.46,158.36 L34.20,158.52 L33.96,158.74 L33.77,159.00 L33.63,159.32 L33.52,159.67 L33.46,160.07 L33.43,160.50 L33.44,160.96 L33.47,161.42 L33.52,161.90 L33.58,162.37 L33.63,162.83 L33.66,163.26 L33.66,163.66 L33.60,164.02 L33.49,164.34 L33.30,164.60 L33.03,164.80 L32.69,164.94 L32.26,165.00 L31.75,164.98 L31.18,164.87 L30.55,164.68 L29.88,164.39 L29.19,164.02 L28.50,163.57 L27.83,163.05 L27.21,162.47 L26.64,161.85 L26.14,161.21 L25.73,160.56 L25.41,159.93 L25.18,159.34 L25.05,158.80 L25.00,158.32 L25.05,157.91 L25.17,157.58 L25.37,157.32 L25.63,157.12 L25.95,157.00 L26.32,156.92 L26.73,156.89 L27.18,156.88 L27.64,156.88 L28.12,156.89 L28.59,156.89 L29.06,156.86 L29.50,156.81 L29.92,156.73 L30.29,156.62 L30.62,156.46 L30.90,156.27 L31.13,156.04 L31.30,155.78 L31.41,155.48 L31.48,155.15 L31.49,154.80 L31.47,154.43 L31.40,154.03 L31.31,153.61 L31.19,153.19 L31.04,152.75 L30.88,152.31 L30.70,151.88 L30.51,151.45 L30.31,151.04 L30.10,150.65 L29.88,150.29 L29.65,149.97 L29.41,149.68 L29.15,149.45 L28.88,149.26 L28.58,149.14 L28.28,149.07 L27.96,149.07 L27.62,149.13 L27.27,149.26 L26.92,149.44 L26.57,149.67 L26.21,149.95 L25.86,150.26 L25.52,150.59 L25.18,150.93 L24.85,151.25 L24.53,151.55 L24.21,151.80 L23.89,152.00 L23.57,152.12 L23.25,152.16 L22.93,152.10 L22.61,151.93 L22.29,151.65 L21.99,151.27 L21.71,150.77"/>
<circle cx="36.8" cy="131" r="2.4"/><circle cx="29" cy="138" r="3.6"/>
</g></svg>
<div class="t" style="left:30.28px;top:39.00px;font-size:45.93px;font-weight:700;color:#fff;letter-spacing:1.837px;transform:scaleX(0.9703);-webkit-text-stroke:2.4px #fff;">COMPORTAMIENTO</div>
<div class="t" style="left:31.25px;top:86.00px;font-size:45.64px;font-weight:700;color:#fff;letter-spacing:1.826px;transform:scaleX(0.9405);-webkit-text-stroke:2.4px #fff;">DE COVID-19 EN SONORA</div>
<div class="t" style="left:31.88px;top:135.00px;font-size:19.40px;font-weight:400;color:#fff;letter-spacing:2.328px;transform:scaleX(0.9771);-webkit-text-stroke:0.35px #ba3f42;">26 DE NOVIEMBRE DE 2021</div>
<div class="t" style="left:726.48px;top:83.00px;font-size:29.46px;font-weight:700;color:#fff;letter-spacing:0.884px;transform:scaleX(1.1055);-webkit-text-stroke:2.4px #fff;">SONORA</div>
<div class="t" style="left:725.43px;top:114.00px;font-size:8.43px;font-weight:400;color:#fff;letter-spacing:1.349px;transform:scaleX(1.0204);">TIERRA DE</div>
<div class="t" style="left:786.31px;top:115.00px;font-size:7.99px;font-weight:700;color:#fff;letter-spacing:0.959px;transform:scaleX(1.0949);-webkit-text-stroke:0.3px #fff;">OPORTUNIDADES</div>
<div class="t" style="left:973.06px;top:65.00px;font-size:8.72px;font-weight:400;color:#fff;letter-spacing:0.000px;transform:scaleX(0.9729);">SECRETARÍA DE</div>
<div class="t" style="left:973.54px;top:77.00px;font-size:9.30px;font-weight:700;color:#fff;letter-spacing:0.279px;transform:scaleX(1.2328);-webkit-text-stroke:0.6px #fff;">SALUD PÚBLICA</div>
<div class="t" style="left:972.87px;top:94.00px;font-size:9.59px;font-weight:400;color:#fff;letter-spacing:0.000px;transform:scaleX(1.0969);">GOBIERNO</div>
<div class="t" style="left:973.03px;top:107.00px;font-size:5.23px;font-weight:400;color:#fff;letter-spacing:0.000px;transform:scaleX(1.3558);">DE</div>
<div class="t" style="left:984.69px;top:104.00px;font-size:8.58px;font-weight:700;color:#fff;letter-spacing:0.000px;transform:scaleX(1.1483);-webkit-text-stroke:0.5px #fff;">SONORA</div>
<div class="t" style="left:908.62px;top:115.00px;font-size:5.38px;font-weight:700;color:#fff;letter-spacing:0.000px;transform:scaleX(0.8614);">ESTADO DE SONORA</div>
<div class="t" style="left:380.23px;top:230.00px;font-size:21.22px;font-weight:700;color:#000;letter-spacing:0.849px;transform:scaleX(0.9954);-webkit-text-stroke:1.2px #000;">DATOS DE LAS ÚLTIMAS 24 HORAS</div>
<div style="position:absolute;left:154.10000000000002px;top:258.6px;width:112.4px;height:112.4px;border-radius:50%;background:#f27c24"></div>
<div style="position:absolute;left:391.8px;top:265.0px;width:112.4px;height:112.4px;border-radius:50%;background:#ba3f42"></div>
<div style="position:absolute;left:678.4000000000001px;top:264.9px;width:112.6px;height:112.6px;border-radius:50%;background:#6a1718"></div>
<svg width="1100" height="420" viewBox="0 0 1100 420"><g fill="none" stroke="#fff" stroke-width="1.55" stroke-dasharray="1.3 0.45">
<path d="M738.5,62.2 L749.1,51.6 L759.7,62.2 L749.1,72.8 Z"/>
<path d="M738.5,73.8 L749.1,63.2 L759.7,73.8 L749.1,84.4 Z"/>
<path d="M745.2,68.0 L749.1,64.1 L753.0,68.0 L749.1,71.9 Z"/>
<path d="M841.2,62.2 L851.8,51.6 L862.4,62.2 L851.8,72.8 Z"/>
<path d="M841.2,73.8 L851.8,63.2 L862.4,73.8 L851.8,84.4 Z"/>
<path d="M847.9,68.0 L851.8,64.1 L855.7,68.0 L851.8,71.9 Z"/>
<path d="M782.3,67.3 L792.6,57.0 L802.9,67.3 L792.6,77.6 Z"/>
<path d="M795.1,67.3 L805.4,57.0 L815.7,67.3 L805.4,77.6 Z"/>
<path d="M795.4,67.3 L799.0,63.7 L802.6,67.3 L799.0,70.9 Z"/>
<path d="M777.3,55.8 L765.6,67.3 L777.3,78.8"/>
<path d="M823.7,55.8 L835.4,67.3 L823.7,78.8"/>
</g>
<line x1="725.6" y1="123.9" x2="875.6" y2="123.9" stroke="#fff" stroke-width="1.4" stroke-dasharray="1.2 1" opacity="0.95"/>
<line x1="889.3" y1="41" x2="889.3" y2="129.5" stroke="#fff" stroke-width="1" opacity="0.8"/>
<line x1="973.4" y1="89.6" x2="1060" y2="89.6" stroke="#fff" stroke-width="1.1" opacity="0.9"/><g fill="none" stroke="#fff" stroke-width="1" stroke-linejoin="round" opacity="0.93">
<path d="M902.2,53.2 L962.9,53.2 L962.9,112 Q962.9,121 954,121 L938,121 L932.6,124 L927.2,121 L911,121 Q902.2,121 902.2,112 Z"/>
<path d="M907.9,58.2 L958,58.2 L958,106 Q958,113.8 950,113.8 L916,113.8 Q907.9,113.8 907.9,106 Z" stroke-width="0.9"/>
<path d="M907.9,87.9 L958,87.9 M932.9,87.9 L932.9,113.8 M908.4,87.6 L932.9,59.3 L957.5,87.6" stroke-width="0.9"/>
</g>
<g fill="#fff" opacity="0.8">
<path d="M910.5,70 Q909.5,64.5 914,62.2 Q919,60.3 922.5,64 Q924.5,67 922.5,70.5 Q920,73.8 916,73.2 Q912,73.4 910.5,70 Z"/>
<path d="M944.5,64 Q946,61 950.5,61.2 Q955,61.5 955.2,65.5 Q955,70 953.5,74.5 Q950.5,76.5 947.2,74.6 Q945.6,70 944.5,64 Z"/>
<path d="M931.2,61.5 L933.2,61.5 L934,69 Q935.5,73 934.6,78 L933.8,86 L926.5,86 L925.6,78 Q925,72 928.5,69.5 Z"/>
<path d="M910.6,101 Q910.2,94 916,92.2 Q922,90.6 926.5,92.6 Q930.5,94.6 928,97.5 Q925.6,99.5 926,103 Q925.5,108 921,110.6 Q916,111 913,107.5 Q910.8,104.6 910.6,101 Z"/>
<path d="M936.2,106.4 Q941,101.5 947.5,98.6 Q951,96.6 952.2,92.4 L954.4,94 Q954.6,98.5 951,101.4 Q944.5,106.4 937.6,108.4 Z"/>
</g>
<g fill="none" stroke="#fff" stroke-width="0.7" opacity="0.8"><path d="M934,90 L938.6,99.5 M946.5,106.5 Q949,111.5 953.2,111.3"/></g>
<g fill="none" stroke="#ba3f42" stroke-width="0.9" opacity="0.85">
<path d="M913,66 L919,69 M914,70.5 L920,66"/><path d="M948,65 L952,65 M948.5,69 L952.5,70.5 M950,63 L950.5,73"/>
<path d="M929.5,72 L929.8,84 M932,71 L932,82"/><path d="M916,96 L922,99 M918,103 Q921,101 923,104 M915,100 L917,106"/>
</g><g fill="none" stroke="#fff" stroke-width="3.9" stroke-linecap="round" stroke-linejoin="round">
<path d="M215.28,301.04 L214.93,300.79 L214.61,300.49 L214.29,300.14 L214.00,299.76 L213.73,299.34 L213.48,298.90 L213.25,298.43 L213.05,297.95 L212.87,297.47 L212.73,296.99 L212.62,296.51 L212.56,296.04 L212.54,295.59 L212.56,295.16 L212.64,294.75 L212.77,294.37 L212.96,294.01 L213.20,293.70 L213.50,293.41 L213.85,293.16 L214.25,292.95 L214.69,292.76 L215.16,292.60 L215.66,292.47 L216.17,292.36 L216.68,292.25 L217.20,292.14 L217.69,292.02 L218.16,291.89 L218.59,291.72 L218.97,291.50 L219.30,291.24 L219.56,290.93 L219.75,290.55 L219.86,290.11 L219.89,289.61 L219.83,289.05 L219.69,288.45 L219.45,287.82 L219.12,287.17 L218.72,286.51 L218.24,285.86 L217.70,285.23 L217.11,284.66 L216.49,284.13 L215.85,283.68 L215.20,283.31 L214.57,283.02 L213.96,282.82 L213.40,282.71 L212.88,282.69 L212.41,282.76 L212.01,282.91 L211.66,283.14 L211.37,283.44 L211.14,283.80 L210.94,284.21 L210.77,284.66 L210.63,285.14 L210.51,285.64 L210.38,286.15 L210.25,286.66 L210.11,287.16 L209.95,287.64 L209.76,288.08 L209.54,288.49 L209.28,288.84 L209.00,289.15 L208.68,289.40 L208.34,289.59 L207.96,289.73 L207.56,289.81 L207.13,289.84 L206.68,289.82 L206.22,289.75 L205.75,289.64 L205.27,289.49 L204.80,289.31 L204.32,289.10 L203.86,288.87 L203.42,288.61 L203.00,288.33 L202.61,288.03 L202.26,287.71 L201.96,287.38 L201.70,287.03 L201.50,286.66 L201.36,286.28 L201.29,285.89 L201.27,285.49 L201.32,285.08 L201.43,284.67 L201.60,284.25 L201.82,283.82 L202.08,283.40 L202.38,282.98 L202.70,282.56 L203.02,282.15 L203.35,281.74 L203.65,281.33 L203.92,280.92 L204.13,280.52 L204.29,280.11 L204.36,279.70 L204.36,279.28 L204.25,278.87 L204.05,278.46 L203.75,278.06 L203.34,277.68 L202.83,277.31 L202.24,276.98 L201.57,276.69 L200.83,276.45 L200.04,276.26 L199.23,276.14 L198.41,276.07 L197.59,276.07 L196.80,276.12 L196.05,276.23 L195.36,276.39 L194.74,276.59 L194.19,276.84 L193.72,277.12 L193.35,277.43 L193.06,277.76 L192.86,278.11 L192.75,278.47 L192.72,278.85 L192.76,279.23 L192.86,279.63 L193.01,280.03 L193.20,280.44 L193.42,280.86 L193.66,281.28 L193.90,281.70 L194.13,282.13 L194.34,282.56 L194.52,282.98 L194.67,283.40 L194.77,283.81 L194.83,284.21 L194.83,284.59 L194.78,284.96 L194.67,285.31 L194.51,285.65 L194.30,285.96 L194.04,286.25 L193.72,286.53 L193.37,286.78 L192.98,287.02 L192.56,287.24 L192.11,287.44 L191.63,287.63 L191.14,287.79 L190.65,287.94 L190.15,288.07 L189.65,288.17 L189.15,288.25 L188.67,288.29 L188.21,288.31 L187.76,288.30 L187.34,288.24 L186.95,288.15 L186.59,288.01 L186.27,287.83 L185.98,287.60 L185.73,287.33 L185.51,287.02 L185.34,286.66 L185.19,286.27 L185.09,285.85 L185.01,285.40 L184.95,284.93 L184.92,284.45 L184.89,283.97 L184.87,283.48 L184.84,283.01 L184.80,282.55 L184.73,282.12 L184.62,281.72 L184.46,281.35 L184.26,281.03 L183.99,280.76 L183.66,280.55 L183.26,280.40 L182.80,280.31 L182.28,280.30 L181.70,280.35 L181.08,280.49 L180.42,280.69 L179.73,280.97 L179.04,281.32 L178.34,281.74 L177.67,282.21 L177.03,282.73 L176.43,283.29 L175.88,283.87 L175.41,284.46 L175.00,285.06 L174.67,285.64 L174.42,286.20 L174.25,286.74 L174.17,287.23 L174.16,287.68 L174.23,288.08 L174.37,288.43 L174.58,288.74 L174.85,289.00 L175.17,289.23 L175.53,289.41 L175.93,289.58 L176.36,289.72 L176.81,289.86 L177.27,289.99 L177.73,290.12 L178.18,290.26 L178.61,290.42 L179.02,290.60 L179.40,290.80 L179.74,291.02 L180.04,291.27 L180.29,291.54 L180.50,291.84 L180.65,292.17 L180.75,292.52 L180.80,292.89 L180.81,293.29 L180.77,293.70 L180.69,294.13 L180.57,294.57 L180.41,295.02 L180.23,295.48 L180.02,295.94 L179.78,296.40 L179.53,296.85 L179.26,297.30 L178.98,297.72 L178.69,298.13 L178.38,298.51 L178.07,298.85 L177.75,299.16 L177.42,299.43 L177.08,299.65 L176.74,299.82 L176.39,299.93 L176.03,299.99 L175.67,300.00 L175.31,299.95 L174.94,299.84 L174.57,299.69 L174.21,299.48 L173.84,299.24 L173.48,298.96 L173.13,298.65 L172.77,298.33 L172.43,298.00 L172.08,297.68 L171.74,297.38 L171.39,297.10 L171.04,296.87 L170.69,296.69 L170.33,296.56 L169.96,296.51 L169.59,296.54 L169.21,296.65 L168.83,296.84 L168.45,297.13 L168.07,297.51 L167.71,297.98 L167.37,298.53 L167.05,299.16 L166.77,299.85 L166.54,300.59 L166.35,301.38 L166.21,302.19 L166.12,303.02 L166.08,303.83 L166.09,304.64 L166.14,305.41 L166.23,306.16 L166.37,306.85 L166.54,307.49 L166.74,308.07 L166.97,308.59 L167.22,309.03 L167.48,309.41 L167.77,309.70 L168.06,309.93 L168.36,310.09 L168.66,310.17 L168.97,310.20 L169.29,310.16 L169.60,310.08 L169.92,309.94 L170.25,309.77 L170.57,309.57 L170.90,309.35 L171.23,309.12 L171.57,308.88 L171.90,308.64 L172.24,308.41 L172.58,308.20 L172.92,308.01 L173.26,307.85 L173.59,307.72 L173.92,307.63 L174.25,307.58 L174.56,307.57 L174.87,307.61 L175.16,307.69 L175.45,307.81 L175.72,307.98 L175.99,308.19 L176.24,308.45 L176.48,308.74 L176.72,309.07 L176.95,309.43 L177.17,309.82 L177.38,310.24 L177.58,310.67 L177.79,311.13 L177.98,311.60 L178.17,312.08 L178.35,312.57 L178.52,313.06 L178.68,313.55 L178.82,314.03 L178.96,314.50 L179.07,314.97 L179.16,315.41 L179.23,315.84 L179.28,316.26 L179.29,316.65 L179.28,317.02 L179.23,317.36 L179.15,317.68 L179.03,317.97 L178.87,318.24 L178.67,318.48 L178.45,318.69 L178.18,318.87 L177.89,319.02 L177.56,319.15 L177.21,319.26 L176.84,319.34 L176.45,319.40 L176.04,319.45 L175.63,319.49 L175.22,319.52 L174.81,319.55 L174.41,319.59 L174.03,319.64 L173.66,319.70 L173.32,319.79 L173.00,319.91 L172.72,320.07 L172.48,320.27 L172.28,320.51 L172.13,320.80 L172.02,321.13 L171.97,321.52 L171.98,321.95 L172.04,322.44 L172.17,322.96 L172.36,323.52 L172.61,324.10 L172.93,324.72 L173.30,325.34 L173.73,325.97 L174.22,326.60 L174.76,327.21 L175.33,327.80 L175.95,328.35 L176.58,328.87 L177.24,329.34 L177.90,329.75 L178.55,330.11 L179.19,330.40 L179.81,330.64 L180.40,330.80 L180.94,330.91 L181.44,330.95 L181.89,330.94 L182.29,330.86 L182.63,330.74 L182.92,330.56 L183.15,330.34 L183.34,330.08 L183.49,329.78 L183.59,329.44 L183.67,329.08 L183.71,328.70 L183.74,328.29 L183.76,327.88 L183.77,327.45 L183.79,327.03 L183.81,326.61 L183.85,326.19 L183.90,325.79 L183.98,325.41 L184.08,325.06 L184.21,324.73 L184.37,324.43 L184.55,324.16 L184.77,323.93 L185.03,323.74 L185.31,323.58 L185.62,323.46 L185.96,323.38 L186.32,323.33 L186.72,323.31 L187.13,323.32 L187.57,323.36 L188.02,323.42 L188.49,323.50 L188.98,323.61 L189.47,323.73 L189.96,323.86 L190.46,324.00 L190.96,324.16 L191.44,324.33 L191.92,324.50 L192.38,324.68 L192.82,324.88 L193.23,325.08 L193.62,325.29 L193.98,325.51 L194.30,325.74 L194.58,325.99 L194.82,326.25 L195.01,326.52 L195.17,326.81 L195.27,327.11 L195.33,327.42 L195.34,327.74 L195.31,328.08 L195.24,328.42 L195.13,328.77 L194.99,329.13 L194.81,329.49 L194.61,329.85 L194.40,330.22 L194.17,330.58 L193.94,330.94 L193.73,331.29 L193.52,331.64 L193.34,331.99 L193.20,332.33 L193.09,332.67 L193.04,333.00 L193.04,333.32 L193.10,333.64 L193.23,333.95 L193.44,334.24 L193.71,334.53 L194.07,334.80 L194.50,335.04 L195.00,335.26 L195.57,335.46 L196.20,335.61 L196.89,335.73 L197.63,335.81 L198.40,335.84 L199.21,335.82 L200.02,335.76 L200.84,335.65 L201.65,335.48 L202.44,335.28 L203.19,335.03 L203.90,334.75 L204.56,334.44 L205.16,334.11 L205.69,333.76 L206.15,333.40 L206.53,333.03 L206.83,332.66 L207.06,332.30 L207.21,331.95 L207.29,331.61 L207.29,331.28 L207.23,330.96 L207.12,330.66 L206.94,330.36 L206.72,330.08 L206.47,329.80 L206.18,329.53 L205.87,329.26 L205.55,328.99 L205.22,328.72 L204.90,328.44 L204.59,328.16 L204.29,327.87 L204.03,327.58 L203.79,327.29 L203.59,326.98 L203.43,326.68 L203.31,326.37 L203.24,326.05 L203.21,325.74 L203.24,325.42"/>
<path d="M197.5,294.2 Q199.6,299.4 206.2,297.3 L207.5,295.2"/>
<path d="M188.6,308.3 Q190.9,305.0 193.5,308.3"/>
<path d="M194.5,308.8 Q197.9,307.3 198.3,311.6"/>
<path d="M208.3,307.9 L205.2,312.4"/>
<line x1="219.9" y1="337.6" x2="205.2" y2="351.8" stroke-width="10.2"/>
<line x1="219.9" y1="337.6" x2="205.2" y2="351.8" stroke="#f27c24" stroke-width="3.2"/>
<circle cx="234.4" cy="322.0" r="20.30" fill="#f27c24" stroke-width="4.2"/>
<path d="M221.4,319.3 A13.24,13.24 0 0 1 230.7,309.3" stroke-width="3.3"/>
</g><g fill="none" stroke="#fff" stroke-width="2.8" stroke-linejoin="miter">
<path d="M427.0,287.4 L452.4,287.4 L452.4,305.0 L427.0,305.0 Z"/>
<path d="M427.0,298.5 L452.4,298.5" stroke-width="2.2"/>
<path d="M430.7,295.3 L434.0,295.3 L436.0,291.5 L439.7,300.9 L443.0,293.9 L444.9,295.3 L449.4,295.3" stroke-width="2.1" stroke-linejoin="round"/>
<path d="M416.5,329.8 L473.7,329.8 L473.7,307.9 L482.6,307.9 L482.6,348.0 L473.7,348.0 L473.7,337.8 L425.4,337.8 L425.4,348.0 L416.5,348.0 Z"/>
<path d="M473.7,309.8 L465.0,327.9"/>
<path d="M422.1,328.9 L422.1,322.5 Q422.1,318.7 425.9,318.7 L443.6,318.7" />
<path d="M443.6,318.7 L443.6,325.1 L455.1,325.1 L455.1,328.3"/>
<path d="M444.3,319.7 L456.7,319.7 L461.5,312.6" />
<path d="M455.1,325.1 L459.5,325.1 L465.5,313.6" />
<path d="M461.5,312.6 Q463.4,310.1 467.8,312.4 L469.1,313.6" />
<circle cx="463.7" cy="303.5" r="4.84"/>
</g><g fill="none" stroke="#fff" stroke-width="2.4" stroke-linejoin="miter" stroke-linecap="round">
<path d="M711.8,342.8 L716.8,345.9 L720.0,357.6 L734.7,333.7 L750.5,357.6 L753.3,345.9 L758.3,342.8 L741.1,321.2 Q750.0,305.9 749.0,295.7 Q747.1,282.4 734.4,282.1 Q721.6,282.4 719.7,295.7 Q719.1,305.9 728.0,321.2 Z"/>
<path d="M724.8,296.0 Q734.4,290.6 744.2,296.0 L734.7,314.3 Z"/>
<path d="M723.8,293.2 Q734.4,288.3 745.2,293.2" stroke-width="1.8"/>
</g></svg>
<div class="t" style="left:284.75px;top:280.00px;font-size:55.11px;font-weight:700;color:#000;letter-spacing:1.929px;transform:scaleX(0.9217);-webkit-text-stroke:3.4px #000;">373</div>
<div class="t" style="left:296.35px;top:342.00px;font-size:20.71px;font-weight:400;color:#000;letter-spacing:0.000px;transform:scaleX(0.8673);-webkit-text-stroke:0.35px #fff;">CASOS</div>
<div class="t" style="left:564.91px;top:287.00px;font-size:54.40px;font-weight:700;color:#000;letter-spacing:1.904px;transform:scaleX(0.8914);-webkit-text-stroke:3.4px #000;">10</div>
<div class="t" style="left:509.52px;top:342.00px;font-size:20.71px;font-weight:400;color:#000;letter-spacing:0.000px;transform:scaleX(0.8632);-webkit-text-stroke:0.35px #fff;">HOSPITALIZADOS</div>
<div class="t" style="left:848.72px;top:281.00px;font-size:55.67px;font-weight:700;color:#000;letter-spacing:0.000px;transform:scaleX(0.8930);-webkit-text-stroke:3.4px #000;">3</div>
<div class="t" style="left:802.91px;top:342.00px;font-size:19.99px;font-weight:400;color:#000;letter-spacing:0.000px;transform:scaleX(0.8938);-webkit-text-stroke:0.35px #fff;">DEFUNCIONES</div>
<div style="position:absolute;left:22px;top:406.5px;width:1053px;height:4px;background:#e58135"></div>
<div class="t" style="left:246.93px;top:447.00px;font-size:26.45px;font-weight:700;color:#6e1a1c;letter-spacing:1.323px;transform:scaleX(1.0429);-webkit-text-stroke:1.5px #6e1a1c;">PRUEBAS POSITIVAS Y NEGATIVAS POR</div>
<div class="t" style="left:270.55px;top:478.00px;font-size:25.87px;font-weight:700;color:#6e1a1c;letter-spacing:1.294px;transform:scaleX(1.0702);-webkit-text-stroke:1.5px #6e1a1c;">SEMANA EPIDEMIOLÓGICA 2020-2021</div>
<svg width="1100" height="1100" viewBox="0 0 1100 1100" font-family="Liberation Sans, sans-serif">
<rect x="276.4" y="677.2" width="179" height="263.3" fill="#fcede6"/>
<rect x="541.3" y="690.7" width="150" height="249.8" fill="#ecf1e8"/>
<rect x="821.8" y="564.3" width="170" height="376.2" fill="#f7f6dd"/>
<rect x="136.50" y="891.20" width="4.0" height="0.80" fill="#f5ba1e"/>
<rect x="145.93" y="890.50" width="4.0" height="1.50" fill="#f5ba1e"/>
<rect x="155.37" y="889.60" width="4.0" height="2.40" fill="#f5ba1e"/>
<rect x="164.80" y="889.60" width="4.0" height="2.40" fill="#f5ba1e"/>
<rect x="174.24" y="890.00" width="4.0" height="2.00" fill="#f5ba1e"/>
<rect x="183.67" y="889.40" width="4.0" height="2.60" fill="#f5ba1e"/>
<rect x="193.10" y="890.00" width="4.0" height="2.00" fill="#f5ba1e"/>
<rect x="202.54" y="890.00" width="4.0" height="2.00" fill="#f5ba1e"/>
<rect x="211.97" y="890.00" width="4.0" height="2.00" fill="#f5ba1e"/>
<rect x="221.41" y="890.20" width="4.0" height="1.80" fill="#f5ba1e"/>
<rect x="230.84" y="890.20" width="4.0" height="1.80" fill="#f5ba1e"/>
<rect x="240.27" y="891.20" width="4.0" height="0.80" fill="#f5ba1e"/>
<rect x="249.71" y="891.00" width="4.0" height="1.00" fill="#f5ba1e"/>
<rect x="259.14" y="868.40" width="4.0" height="20.90" fill="#f5ba1e"/>
<rect x="259.14" y="889.30" width="4.0" height="2.70" fill="#cc1a0e"/>
<rect x="268.58" y="881.60" width="4.0" height="8.60" fill="#f5ba1e"/>
<rect x="268.58" y="890.20" width="4.0" height="1.80" fill="#cc1a0e"/>
<rect x="278.01" y="876.20" width="4.0" height="12.20" fill="#f5ba1e"/>
<rect x="278.01" y="888.40" width="4.0" height="3.60" fill="#cc1a0e"/>
<rect x="287.44" y="878.40" width="4.0" height="8.70" fill="#f5ba1e"/>
<rect x="287.44" y="887.10" width="4.0" height="4.90" fill="#cc1a0e"/>
<rect x="296.88" y="865.10" width="4.0" height="14.20" fill="#f5ba1e"/>
<rect x="296.88" y="879.30" width="4.0" height="12.70" fill="#cc1a0e"/>
<rect x="306.31" y="851.30" width="4.0" height="21.60" fill="#f5ba1e"/>
<rect x="306.31" y="872.90" width="4.0" height="19.10" fill="#cc1a0e"/>
<rect x="315.75" y="839.80" width="4.0" height="20.60" fill="#f5ba1e"/>
<rect x="315.75" y="860.40" width="4.0" height="31.60" fill="#cc1a0e"/>
<rect x="325.18" y="816.50" width="4.0" height="25.70" fill="#f5ba1e"/>
<rect x="325.18" y="842.20" width="4.0" height="49.80" fill="#cc1a0e"/>
<rect x="334.61" y="803.60" width="4.0" height="28.40" fill="#f5ba1e"/>
<rect x="334.61" y="832.00" width="4.0" height="60.00" fill="#cc1a0e"/>
<rect x="344.05" y="787.50" width="4.0" height="35.80" fill="#f5ba1e"/>
<rect x="344.05" y="823.30" width="4.0" height="68.70" fill="#cc1a0e"/>
<rect x="353.48" y="783.50" width="4.0" height="33.20" fill="#f5ba1e"/>
<rect x="353.48" y="816.70" width="4.0" height="75.30" fill="#cc1a0e"/>
<rect x="362.92" y="774.20" width="4.0" height="33.10" fill="#f5ba1e"/>
<rect x="362.92" y="807.30" width="4.0" height="84.70" fill="#cc1a0e"/>
<rect x="372.35" y="761.50" width="4.0" height="38.00" fill="#f5ba1e"/>
<rect x="372.35" y="799.50" width="4.0" height="92.50" fill="#cc1a0e"/>
<rect x="381.78" y="754.70" width="4.0" height="44.60" fill="#f5ba1e"/>
<rect x="381.78" y="799.30" width="4.0" height="92.70" fill="#cc1a0e"/>
<rect x="391.22" y="791.30" width="4.0" height="29.40" fill="#f5ba1e"/>
<rect x="391.22" y="820.70" width="4.0" height="71.30" fill="#cc1a0e"/>
<rect x="400.65" y="805.50" width="4.0" height="27.80" fill="#f5ba1e"/>
<rect x="400.65" y="833.30" width="4.0" height="58.70" fill="#cc1a0e"/>
<rect x="410.09" y="813.30" width="4.0" height="35.80" fill="#f5ba1e"/>
<rect x="410.09" y="849.10" width="4.0" height="42.90" fill="#cc1a0e"/>
<rect x="419.52" y="808.20" width="4.0" height="44.90" fill="#f5ba1e"/>
<rect x="419.52" y="853.10" width="4.0" height="38.90" fill="#cc1a0e"/>
<rect x="428.95" y="798.50" width="4.0" height="62.60" fill="#f5ba1e"/>
<rect x="428.95" y="861.10" width="4.0" height="30.90" fill="#cc1a0e"/>
<rect x="438.39" y="798.20" width="4.0" height="65.80" fill="#f5ba1e"/>
<rect x="438.39" y="864.00" width="4.0" height="28.00" fill="#cc1a0e"/>
<rect x="447.82" y="798.50" width="4.0" height="66.40" fill="#f5ba1e"/>
<rect x="447.82" y="864.90" width="4.0" height="27.10" fill="#cc1a0e"/>
<rect x="457.26" y="800.50" width="4.0" height="57.50" fill="#f5ba1e"/>
<rect x="457.26" y="858.00" width="4.0" height="34.00" fill="#cc1a0e"/>
<rect x="466.69" y="806.00" width="4.0" height="50.00" fill="#f5ba1e"/>
<rect x="466.69" y="856.00" width="4.0" height="36.00" fill="#cc1a0e"/>
<rect x="476.12" y="824.20" width="4.0" height="39.80" fill="#f5ba1e"/>
<rect x="476.12" y="864.00" width="4.0" height="28.00" fill="#cc1a0e"/>
<rect x="485.56" y="808.50" width="4.0" height="58.20" fill="#f5ba1e"/>
<rect x="485.56" y="866.70" width="4.0" height="25.30" fill="#cc1a0e"/>
<rect x="494.99" y="818.70" width="4.0" height="51.50" fill="#f5ba1e"/>
<rect x="494.99" y="870.20" width="4.0" height="21.80" fill="#cc1a0e"/>
<rect x="504.43" y="819.60" width="4.0" height="50.60" fill="#f5ba1e"/>
<rect x="504.43" y="870.20" width="4.0" height="21.80" fill="#cc1a0e"/>
<rect x="513.86" y="829.50" width="4.0" height="38.70" fill="#f5ba1e"/>
<rect x="513.86" y="868.20" width="4.0" height="23.80" fill="#cc1a0e"/>
<rect x="523.29" y="830.40" width="4.0" height="35.60" fill="#f5ba1e"/>
<rect x="523.29" y="866.00" width="4.0" height="26.00" fill="#cc1a0e"/>
<rect x="532.73" y="833.10" width="4.0" height="34.70" fill="#f5ba1e"/>
<rect x="532.73" y="867.80" width="4.0" height="24.20" fill="#cc1a0e"/>
<rect x="542.16" y="811.60" width="4.0" height="44.40" fill="#f5ba1e"/>
<rect x="542.16" y="856.00" width="4.0" height="36.00" fill="#cc1a0e"/>
<rect x="551.60" y="807.10" width="4.0" height="39.60" fill="#f5ba1e"/>
<rect x="551.60" y="846.70" width="4.0" height="45.30" fill="#cc1a0e"/>
<rect x="561.03" y="805.30" width="4.0" height="40.50" fill="#f5ba1e"/>
<rect x="561.03" y="845.80" width="4.0" height="46.20" fill="#cc1a0e"/>
<rect x="570.46" y="748.20" width="4.0" height="61.10" fill="#f5ba1e"/>
<rect x="570.46" y="809.30" width="4.0" height="82.70" fill="#cc1a0e"/>
<rect x="579.90" y="770.40" width="4.0" height="50.50" fill="#f5ba1e"/>
<rect x="579.90" y="820.90" width="4.0" height="71.10" fill="#cc1a0e"/>
<rect x="589.33" y="756.70" width="4.0" height="49.50" fill="#f5ba1e"/>
<rect x="589.33" y="806.20" width="4.0" height="85.80" fill="#cc1a0e"/>
<rect x="598.77" y="767.30" width="4.0" height="52.00" fill="#f5ba1e"/>
<rect x="598.77" y="819.30" width="4.0" height="72.70" fill="#cc1a0e"/>
<rect x="608.20" y="811.60" width="4.0" height="29.50" fill="#f5ba1e"/>
<rect x="608.20" y="841.10" width="4.0" height="50.90" fill="#cc1a0e"/>
<rect x="617.63" y="789.30" width="4.0" height="37.60" fill="#f5ba1e"/>
<rect x="617.63" y="826.90" width="4.0" height="65.10" fill="#cc1a0e"/>
<rect x="627.07" y="755.10" width="4.0" height="58.70" fill="#f5ba1e"/>
<rect x="627.07" y="813.80" width="4.0" height="78.20" fill="#cc1a0e"/>
<rect x="636.50" y="748.20" width="4.0" height="52.00" fill="#f5ba1e"/>
<rect x="636.50" y="800.20" width="4.0" height="91.80" fill="#cc1a0e"/>
<rect x="645.94" y="744.40" width="4.0" height="64.70" fill="#f5ba1e"/>
<rect x="645.94" y="809.10" width="4.0" height="82.90" fill="#cc1a0e"/>
<rect x="655.37" y="763.10" width="4.0" height="62.70" fill="#f5ba1e"/>
<rect x="655.37" y="825.80" width="4.0" height="66.20" fill="#cc1a0e"/>
<rect x="664.80" y="773.30" width="4.0" height="56.70" fill="#f5ba1e"/>
<rect x="664.80" y="830.00" width="4.0" height="62.00" fill="#cc1a0e"/>
<rect x="674.24" y="777.30" width="4.0" height="77.80" fill="#f5ba1e"/>
<rect x="674.24" y="855.10" width="4.0" height="36.90" fill="#cc1a0e"/>
<rect x="683.67" y="788.90" width="4.0" height="73.60" fill="#f5ba1e"/>
<rect x="683.67" y="862.50" width="4.0" height="29.50" fill="#cc1a0e"/>
<rect x="693.11" y="787.10" width="4.0" height="85.10" fill="#f5ba1e"/>
<rect x="693.11" y="872.20" width="4.0" height="19.80" fill="#cc1a0e"/>
<rect x="702.54" y="781.50" width="4.0" height="87.80" fill="#f5ba1e"/>
<rect x="702.54" y="869.30" width="4.0" height="22.70" fill="#cc1a0e"/>
<rect x="711.97" y="784.50" width="4.0" height="78.40" fill="#f5ba1e"/>
<rect x="711.97" y="862.90" width="4.0" height="29.10" fill="#cc1a0e"/>
<rect x="721.41" y="796.70" width="4.0" height="73.50" fill="#f5ba1e"/>
<rect x="721.41" y="870.20" width="4.0" height="21.80" fill="#cc1a0e"/>
<rect x="730.84" y="782.40" width="4.0" height="83.60" fill="#f5ba1e"/>
<rect x="730.84" y="866.00" width="4.0" height="26.00" fill="#cc1a0e"/>
<rect x="740.28" y="821.60" width="4.0" height="54.60" fill="#f5ba1e"/>
<rect x="740.28" y="876.20" width="4.0" height="15.80" fill="#cc1a0e"/>
<rect x="749.71" y="773.30" width="4.0" height="90.70" fill="#f5ba1e"/>
<rect x="749.71" y="864.00" width="4.0" height="28.00" fill="#cc1a0e"/>
<rect x="759.14" y="787.50" width="4.0" height="79.20" fill="#f5ba1e"/>
<rect x="759.14" y="866.70" width="4.0" height="25.30" fill="#cc1a0e"/>
<rect x="768.58" y="786.40" width="4.0" height="83.40" fill="#f5ba1e"/>
<rect x="768.58" y="869.80" width="4.0" height="22.20" fill="#cc1a0e"/>
<rect x="778.01" y="803.30" width="4.0" height="74.50" fill="#f5ba1e"/>
<rect x="778.01" y="877.80" width="4.0" height="14.20" fill="#cc1a0e"/>
<rect x="787.45" y="814.70" width="4.0" height="63.50" fill="#f5ba1e"/>
<rect x="787.45" y="878.20" width="4.0" height="13.80" fill="#cc1a0e"/>
<rect x="796.88" y="821.60" width="4.0" height="58.60" fill="#f5ba1e"/>
<rect x="796.88" y="880.20" width="4.0" height="11.80" fill="#cc1a0e"/>
<rect x="806.31" y="809.80" width="4.0" height="66.40" fill="#f5ba1e"/>
<rect x="806.31" y="876.20" width="4.0" height="15.80" fill="#cc1a0e"/>
<rect x="815.75" y="814.20" width="4.0" height="58.70" fill="#f5ba1e"/>
<rect x="815.75" y="872.90" width="4.0" height="19.10" fill="#cc1a0e"/>
<rect x="825.18" y="803.10" width="4.0" height="64.00" fill="#f5ba1e"/>
<rect x="825.18" y="867.10" width="4.0" height="24.90" fill="#cc1a0e"/>
<rect x="834.62" y="793.60" width="4.0" height="66.80" fill="#f5ba1e"/>
<rect x="834.62" y="860.40" width="4.0" height="31.60" fill="#cc1a0e"/>
<rect x="844.05" y="774.90" width="4.0" height="71.10" fill="#f5ba1e"/>
<rect x="844.05" y="846.00" width="4.0" height="46.00" fill="#cc1a0e"/>
<rect x="853.48" y="743.30" width="4.0" height="95.80" fill="#f5ba1e"/>
<rect x="853.48" y="839.10" width="4.0" height="52.90" fill="#cc1a0e"/>
<rect x="862.92" y="759.80" width="4.0" height="79.50" fill="#f5ba1e"/>
<rect x="862.92" y="839.30" width="4.0" height="52.70" fill="#cc1a0e"/>
<rect x="872.35" y="748.20" width="4.0" height="86.00" fill="#f5ba1e"/>
<rect x="872.35" y="834.20" width="4.0" height="57.80" fill="#cc1a0e"/>
<rect x="881.79" y="710.60" width="4.0" height="103.60" fill="#f5ba1e"/>
<rect x="881.79" y="814.20" width="4.0" height="77.80" fill="#cc1a0e"/>
<rect x="891.22" y="669.30" width="4.0" height="130.70" fill="#f5ba1e"/>
<rect x="891.22" y="800.00" width="4.0" height="92.00" fill="#cc1a0e"/>
<rect x="900.65" y="627.30" width="4.0" height="157.60" fill="#f5ba1e"/>
<rect x="900.65" y="784.90" width="4.0" height="107.10" fill="#cc1a0e"/>
<rect x="910.09" y="636.20" width="4.0" height="143.10" fill="#f5ba1e"/>
<rect x="910.09" y="779.30" width="4.0" height="112.70" fill="#cc1a0e"/>
<rect x="919.52" y="636.20" width="4.0" height="141.80" fill="#f5ba1e"/>
<rect x="919.52" y="778.00" width="4.0" height="114.00" fill="#cc1a0e"/>
<rect x="928.96" y="639.10" width="4.0" height="144.00" fill="#f5ba1e"/>
<rect x="928.96" y="783.10" width="4.0" height="108.90" fill="#cc1a0e"/>
<rect x="938.39" y="599.10" width="4.0" height="182.20" fill="#f5ba1e"/>
<rect x="938.39" y="781.30" width="4.0" height="110.70" fill="#cc1a0e"/>
<rect x="947.82" y="663.80" width="4.0" height="141.30" fill="#f5ba1e"/>
<rect x="947.82" y="805.10" width="4.0" height="86.90" fill="#cc1a0e"/>
<rect x="957.26" y="697.70" width="4.0" height="127.20" fill="#f5ba1e"/>
<rect x="957.26" y="824.90" width="4.0" height="67.10" fill="#cc1a0e"/>
<rect x="966.69" y="755.20" width="4.0" height="80.50" fill="#f5ba1e"/>
<rect x="966.69" y="835.70" width="4.0" height="56.30" fill="#cc1a0e"/>
<rect x="976.13" y="736.50" width="4.0" height="103.40" fill="#f5ba1e"/>
<rect x="976.13" y="839.90" width="4.0" height="52.10" fill="#cc1a0e"/>
<rect x="985.56" y="770.90" width="4.0" height="83.30" fill="#f5ba1e"/>
<rect x="985.56" y="854.20" width="4.0" height="37.80" fill="#cc1a0e"/>
<rect x="994.99" y="773.30" width="4.0" height="84.60" fill="#f5ba1e"/>
<rect x="994.99" y="857.90" width="4.0" height="34.10" fill="#cc1a0e"/>
<rect x="1004.43" y="788.20" width="4.0" height="76.70" fill="#f5ba1e"/>
<rect x="1004.43" y="864.90" width="4.0" height="27.10" fill="#cc1a0e"/>
<rect x="1013.86" y="784.90" width="4.0" height="77.10" fill="#f5ba1e"/>
<rect x="1013.86" y="862.00" width="4.0" height="30.00" fill="#cc1a0e"/>
<rect x="1023.30" y="789.50" width="4.0" height="71.20" fill="#f5ba1e"/>
<rect x="1023.30" y="860.70" width="4.0" height="31.30" fill="#cc1a0e"/>
<rect x="1032.73" y="783.60" width="4.0" height="72.40" fill="#f5ba1e"/>
<rect x="1032.73" y="856.00" width="4.0" height="36.00" fill="#cc1a0e"/>
<rect x="1042.16" y="753.30" width="4.0" height="92.70" fill="#f5ba1e"/>
<rect x="1042.16" y="846.00" width="4.0" height="46.00" fill="#cc1a0e"/>
<line x1="133.9" y1="548.5" x2="133.9" y2="893.0" stroke="#5a5a5a" stroke-width="1.1"/>
<line x1="133.3" y1="892.5" x2="1049" y2="892.5" stroke="#2a1c1c" stroke-width="1"/>
<line x1="128.60000000000002" y1="892.00" x2="133.8" y2="892.00" stroke="#7a7a7a" stroke-width="1"/>
<line x1="130.20000000000002" y1="883.42" x2="133.8" y2="883.42" stroke="#7a7a7a" stroke-width="1"/>
<line x1="130.20000000000002" y1="874.85" x2="133.8" y2="874.85" stroke="#7a7a7a" stroke-width="1"/>
<line x1="130.20000000000002" y1="866.27" x2="133.8" y2="866.27" stroke="#7a7a7a" stroke-width="1"/>
<line x1="130.20000000000002" y1="857.70" x2="133.8" y2="857.70" stroke="#7a7a7a" stroke-width="1"/>
<line x1="128.60000000000002" y1="849.12" x2="133.8" y2="849.12" stroke="#7a7a7a" stroke-width="1"/>
<line x1="130.20000000000002" y1="840.55" x2="133.8" y2="840.55" stroke="#7a7a7a" stroke-width="1"/>
<line x1="130.20000000000002" y1="831.98" x2="133.8" y2="831.98" stroke="#7a7a7a" stroke-width="1"/>
<line x1="130.20000000000002" y1="823.40" x2="133.8" y2="823.40" stroke="#7a7a7a" stroke-width="1"/>
<line x1="130.20000000000002" y1="814.83" x2="133.8" y2="814.83" stroke="#7a7a7a" stroke-width="1"/>
<line x1="128.60000000000002" y1="806.25" x2="133.8" y2="806.25" stroke="#7a7a7a" stroke-width="1"/>
<line x1="130.20000000000002" y1="797.67" x2="133.8" y2="797.67" stroke="#7a7a7a" stroke-width="1"/>
<line x1="130.20000000000002" y1="789.10" x2="133.8" y2="789.10" stroke="#7a7a7a" stroke-width="1"/>
<line x1="130.20000000000002" y1="780.52" x2="133.8" y2="780.52" stroke="#7a7a7a" stroke-width="1"/>
<line x1="130.20000000000002" y1="771.95" x2="133.8" y2="771.95" stroke="#7a7a7a" stroke-width="1"/>
<line x1="128.60000000000002" y1="763.38" x2="133.8" y2="763.38" stroke="#7a7a7a" stroke-width="1"/>
<line x1="130.20000000000002" y1="754.80" x2="133.8" y2="754.80" stroke="#7a7a7a" stroke-width="1"/>
<line x1="130.20000000000002" y1="746.23" x2="133.8" y2="746.23" stroke="#7a7a7a" stroke-width="1"/>
<line x1="130.20000000000002" y1="737.65" x2="133.8" y2="737.65" stroke="#7a7a7a" stroke-width="1"/>
<line x1="130.20000000000002" y1="729.08" x2="133.8" y2="729.08" stroke="#7a7a7a" stroke-width="1"/>
<line x1="128.60000000000002" y1="720.50" x2="133.8" y2="720.50" stroke="#7a7a7a" stroke-width="1"/>
<line x1="130.20000000000002" y1="711.92" x2="133.8" y2="711.92" stroke="#7a7a7a" stroke-width="1"/>
<line x1="130.20000000000002" y1="703.35" x2="133.8" y2="703.35" stroke="#7a7a7a" stroke-width="1"/>
<line x1="130.20000000000002" y1="694.77" x2="133.8" y2="694.77" stroke="#7a7a7a" stroke-width="1"/>
<line x1="130.20000000000002" y1="686.20" x2="133.8" y2="686.20" stroke="#7a7a7a" stroke-width="1"/>
<line x1="128.60000000000002" y1="677.62" x2="133.8" y2="677.62" stroke="#7a7a7a" stroke-width="1"/>
<line x1="130.20000000000002" y1="669.05" x2="133.8" y2="669.05" stroke="#7a7a7a" stroke-width="1"/>
<line x1="130.20000000000002" y1="660.48" x2="133.8" y2="660.48" stroke="#7a7a7a" stroke-width="1"/>
<line x1="130.20000000000002" y1="651.90" x2="133.8" y2="651.90" stroke="#7a7a7a" stroke-width="1"/>
<line x1="130.20000000000002" y1="643.33" x2="133.8" y2="643.33" stroke="#7a7a7a" stroke-width="1"/>
<line x1="128.60000000000002" y1="634.75" x2="133.8" y2="634.75" stroke="#7a7a7a" stroke-width="1"/>
<line x1="130.20000000000002" y1="626.17" x2="133.8" y2="626.17" stroke="#7a7a7a" stroke-width="1"/>
<line x1="130.20000000000002" y1="617.60" x2="133.8" y2="617.60" stroke="#7a7a7a" stroke-width="1"/>
<line x1="130.20000000000002" y1="609.02" x2="133.8" y2="609.02" stroke="#7a7a7a" stroke-width="1"/>
<line x1="130.20000000000002" y1="600.45" x2="133.8" y2="600.45" stroke="#7a7a7a" stroke-width="1"/>
<line x1="128.60000000000002" y1="591.88" x2="133.8" y2="591.88" stroke="#7a7a7a" stroke-width="1"/>
<line x1="130.20000000000002" y1="583.30" x2="133.8" y2="583.30" stroke="#7a7a7a" stroke-width="1"/>
<line x1="130.20000000000002" y1="574.73" x2="133.8" y2="574.73" stroke="#7a7a7a" stroke-width="1"/>
<line x1="130.20000000000002" y1="566.15" x2="133.8" y2="566.15" stroke="#7a7a7a" stroke-width="1"/>
<line x1="130.20000000000002" y1="557.58" x2="133.8" y2="557.58" stroke="#7a7a7a" stroke-width="1"/>
<line x1="128.60000000000002" y1="549.00" x2="133.8" y2="549.00" stroke="#7a7a7a" stroke-width="1"/>
<text x="117.5" y="897.10" font-size="14.4" text-anchor="end" fill="#0a0a0a" stroke="#0a0a0a" stroke-width="0.15" textLength="7.8" lengthAdjust="spacingAndGlyphs">0</text>
<text x="117.5" y="854.23" font-size="14.4" text-anchor="end" fill="#0a0a0a" stroke="#0a0a0a" stroke-width="0.15" textLength="36.8" lengthAdjust="spacingAndGlyphs">1,000</text>
<text x="117.5" y="811.35" font-size="14.4" text-anchor="end" fill="#0a0a0a" stroke="#0a0a0a" stroke-width="0.15" textLength="36.8" lengthAdjust="spacingAndGlyphs">2,000</text>
<text x="117.5" y="768.48" font-size="14.4" text-anchor="end" fill="#0a0a0a" stroke="#0a0a0a" stroke-width="0.15" textLength="36.8" lengthAdjust="spacingAndGlyphs">3,000</text>
<text x="117.5" y="725.60" font-size="14.4" text-anchor="end" fill="#0a0a0a" stroke="#0a0a0a" stroke-width="0.15" textLength="36.8" lengthAdjust="spacingAndGlyphs">4,000</text>
<text x="117.5" y="682.73" font-size="14.4" text-anchor="end" fill="#0a0a0a" stroke="#0a0a0a" stroke-width="0.15" textLength="36.8" lengthAdjust="spacingAndGlyphs">5,000</text>
<text x="117.5" y="639.85" font-size="14.4" text-anchor="end" fill="#0a0a0a" stroke="#0a0a0a" stroke-width="0.15" textLength="36.8" lengthAdjust="spacingAndGlyphs">6,000</text>
<text x="117.5" y="596.98" font-size="14.4" text-anchor="end" fill="#0a0a0a" stroke="#0a0a0a" stroke-width="0.15" textLength="36.8" lengthAdjust="spacingAndGlyphs">7,000</text>
<text x="117.5" y="554.10" font-size="14.4" text-anchor="end" fill="#0a0a0a" stroke="#0a0a0a" stroke-width="0.15" textLength="36.8" lengthAdjust="spacingAndGlyphs">8,000</text>
<line x1="138.50" y1="893.0" x2="138.50" y2="896.0" stroke="#2a1c1c" stroke-width="0.9"/>
<text transform="translate(141.85,899.4) rotate(-90)" font-size="9.5" text-anchor="end" fill="#111" stroke="#111" stroke-width="0.32" textLength="37.6" lengthAdjust="spacingAndGlyphs">2020-02</text>
<line x1="147.93" y1="893.0" x2="147.93" y2="896.0" stroke="#2a1c1c" stroke-width="0.9"/>
<text transform="translate(151.28,899.4) rotate(-90)" font-size="9.5" text-anchor="end" fill="#111" stroke="#111" stroke-width="0.32" textLength="37.6" lengthAdjust="spacingAndGlyphs">2020-03</text>
<line x1="157.37" y1="893.0" x2="157.37" y2="896.0" stroke="#2a1c1c" stroke-width="0.9"/>
<text transform="translate(160.72,899.4) rotate(-90)" font-size="9.5" text-anchor="end" fill="#111" stroke="#111" stroke-width="0.32" textLength="37.6" lengthAdjust="spacingAndGlyphs">2020-04</text>
<line x1="166.80" y1="893.0" x2="166.80" y2="896.0" stroke="#2a1c1c" stroke-width="0.9"/>
<text transform="translate(170.15,899.4) rotate(-90)" font-size="9.5" text-anchor="end" fill="#111" stroke="#111" stroke-width="0.32" textLength="37.6" lengthAdjust="spacingAndGlyphs">2020-05</text>
<line x1="176.24" y1="893.0" x2="176.24" y2="896.0" stroke="#2a1c1c" stroke-width="0.9"/>
<text transform="translate(179.59,899.4) rotate(-90)" font-size="9.5" text-anchor="end" fill="#111" stroke="#111" stroke-width="0.32" textLength="37.6" lengthAdjust="spacingAndGlyphs">2020-06</text>
<line x1="185.67" y1="893.0" x2="185.67" y2="896.0" stroke="#2a1c1c" stroke-width="0.9"/>
<text transform="translate(189.02,899.4) rotate(-90)" font-size="9.5" text-anchor="end" fill="#111" stroke="#111" stroke-width="0.32" textLength="37.6" lengthAdjust="spacingAndGlyphs">2020-07</text>
<line x1="195.10" y1="893.0" x2="195.10" y2="896.0" stroke="#2a1c1c" stroke-width="0.9"/>
<text transform="translate(198.45,899.4) rotate(-90)" font-size="9.5" text-anchor="end" fill="#111" stroke="#111" stroke-width="0.32" textLength="37.6" lengthAdjust="spacingAndGlyphs">2020-08</text>
<line x1="204.54" y1="893.0" x2="204.54" y2="896.0" stroke="#2a1c1c" stroke-width="0.9"/>
<text transform="translate(207.89,899.4) rotate(-90)" font-size="9.5" text-anchor="end" fill="#111" stroke="#111" stroke-width="0.32" textLength="37.6" lengthAdjust="spacingAndGlyphs">2020-09</text>
<line x1="213.97" y1="893.0" x2="213.97" y2="896.0" stroke="#2a1c1c" stroke-width="0.9"/>
<text transform="translate(217.32,899.4) rotate(-90)" font-size="9.5" text-anchor="end" fill="#111" stroke="#111" stroke-width="0.32" textLength="37.6" lengthAdjust="spacingAndGlyphs">2020-10</text>
<line x1="223.41" y1="893.0" x2="223.41" y2="896.0" stroke="#2a1c1c" stroke-width="0.9"/>
<text transform="translate(226.76,899.4) rotate(-90)" font-size="9.5" text-anchor="end" fill="#111" stroke="#111" stroke-width="0.32" textLength="37.6" lengthAdjust="spacingAndGlyphs">2020-11</text>
<line x1="232.84" y1="893.0" x2="232.84" y2="896.0" stroke="#2a1c1c" stroke-width="0.9"/>
<text transform="translate(236.19,899.4) rotate(-90)" font-size="9.5" text-anchor="end" fill="#111" stroke="#111" stroke-width="0.32" textLength="37.6" lengthAdjust="spacingAndGlyphs">2020-12</text>
<line x1="242.27" y1="893.0" x2="242.27" y2="896.0" stroke="#2a1c1c" stroke-width="0.9"/>
<text transform="translate(245.62,899.4) rotate(-90)" font-size="9.5" text-anchor="end" fill="#111" stroke="#111" stroke-width="0.32" textLength="37.6" lengthAdjust="spacingAndGlyphs">2020-13</text>
<line x1="251.71" y1="893.0" x2="251.71" y2="896.0" stroke="#2a1c1c" stroke-width="0.9"/>
<text transform="translate(255.06,899.4) rotate(-90)" font-size="9.5" text-anchor="end" fill="#111" stroke="#111" stroke-width="0.32" textLength="37.6" lengthAdjust="spacingAndGlyphs">2020-14</text>
<line x1="261.14" y1="893.0" x2="261.14" y2="896.0" stroke="#2a1c1c" stroke-width="0.9"/>
<text transform="translate(264.49,899.4) rotate(-90)" font-size="9.5" text-anchor="end" fill="#111" stroke="#111" stroke-width="0.32" textLength="37.6" lengthAdjust="spacingAndGlyphs">2020-15</text>
<line x1="270.58" y1="893.0" x2="270.58" y2="896.0" stroke="#2a1c1c" stroke-width="0.9"/>
<text transform="translate(273.93,899.4) rotate(-90)" font-size="9.5" text-anchor="end" fill="#111" stroke="#111" stroke-width="0.32" textLength="37.6" lengthAdjust="spacingAndGlyphs">2020-16</text>
<line x1="280.01" y1="893.0" x2="280.01" y2="896.0" stroke="#2a1c1c" stroke-width="0.9"/>
<text transform="translate(283.36,899.4) rotate(-90)" font-size="9.5" text-anchor="end" fill="#111" stroke="#111" stroke-width="0.32" textLength="37.6" lengthAdjust="spacingAndGlyphs">2020-17</text>
<line x1="289.44" y1="893.0" x2="289.44" y2="896.0" stroke="#2a1c1c" stroke-width="0.9"/>
<text transform="translate(292.79,899.4) rotate(-90)" font-size="9.5" text-anchor="end" fill="#111" stroke="#111" stroke-width="0.32" textLength="37.6" lengthAdjust="spacingAndGlyphs">2020-18</text>
<line x1="298.88" y1="893.0" x2="298.88" y2="896.0" stroke="#2a1c1c" stroke-width="0.9"/>
<text transform="translate(302.23,899.4) rotate(-90)" font-size="9.5" text-anchor="end" fill="#111" stroke="#111" stroke-width="0.32" textLength="37.6" lengthAdjust="spacingAndGlyphs">2020-19</text>
<line x1="308.31" y1="893.0" x2="308.31" y2="896.0" stroke="#2a1c1c" stroke-width="0.9"/>
<text transform="translate(311.66,899.4) rotate(-90)" font-size="9.5" text-anchor="end" fill="#111" stroke="#111" stroke-width="0.32" textLength="37.6" lengthAdjust="spacingAndGlyphs">2020-20</text>
<line x1="317.75" y1="893.0" x2="317.75" y2="896.0" stroke="#2a1c1c" stroke-width="0.9"/>
<text transform="translate(321.10,899.4) rotate(-90)" font-size="9.5" text-anchor="end" fill="#111" stroke="#111" stroke-width="0.32" textLength="37.6" lengthAdjust="spacingAndGlyphs">2020-21</text>
<line x1="327.18" y1="893.0" x2="327.18" y2="896.0" stroke="#2a1c1c" stroke-width="0.9"/>
<text transform="translate(330.53,899.4) rotate(-90)" font-size="9.5" text-anchor="end" fill="#111" stroke="#111" stroke-width="0.32" textLength="37.6" lengthAdjust="spacingAndGlyphs">2020-22</text>
<line x1="336.61" y1="893.0" x2="336.61" y2="896.0" stroke="#2a1c1c" stroke-width="0.9"/>
<text transform="translate(339.96,899.4) rotate(-90)" font-size="9.5" text-anchor="end" fill="#111" stroke="#111" stroke-width="0.32" textLength="37.6" lengthAdjust="spacingAndGlyphs">2020-23</text>
<line x1="346.05" y1="893.0" x2="346.05" y2="896.0" stroke="#2a1c1c" stroke-width="0.9"/>
<text transform="translate(349.40,899.4) rotate(-90)" font-size="9.5" text-anchor="end" fill="#111" stroke="#111" stroke-width="0.32" textLength="37.6" lengthAdjust="spacingAndGlyphs">2020-24</text>
<line x1="355.48" y1="893.0" x2="355.48" y2="896.0" stroke="#2a1c1c" stroke-width="0.9"/>
<text transform="translate(358.83,899.4) rotate(-90)" font-size="9.5" text-anchor="end" fill="#111" stroke="#111" stroke-width="0.32" textLength="37.6" lengthAdjust="spacingAndGlyphs">2020-25</text>
<line x1="364.92" y1="893.0" x2="364.92" y2="896.0" stroke="#2a1c1c" stroke-width="0.9"/>
<text transform="translate(368.27,899.4) rotate(-90)" font-size="9.5" text-anchor="end" fill="#111" stroke="#111" stroke-width="0.32" textLength="37.6" lengthAdjust="spacingAndGlyphs">2020-26</text>
<line x1="374.35" y1="893.0" x2="374.35" y2="896.0" stroke="#2a1c1c" stroke-width="0.9"/>
<text transform="translate(377.70,899.4) rotate(-90)" font-size="9.5" text-anchor="end" fill="#111" stroke="#111" stroke-width="0.32" textLength="37.6" lengthAdjust="spacingAndGlyphs">2020-27</text>
<line x1="383.78" y1="893.0" x2="383.78" y2="896.0" stroke="#2a1c1c" stroke-width="0.9"/>
<text transform="translate(387.13,899.4) rotate(-90)" font-size="9.5" text-anchor="end" fill="#111" stroke="#111" stroke-width="0.32" textLength="37.6" lengthAdjust="spacingAndGlyphs">2020-28</text>
<line x1="393.22" y1="893.0" x2="393.22" y2="896.0" stroke="#2a1c1c" stroke-width="0.9"/>
<text transform="translate(396.57,899.4) rotate(-90)" font-size="9.5" text-anchor="end" fill="#111" stroke="#111" stroke-width="0.32" textLength="37.6" lengthAdjust="spacingAndGlyphs">2020-29</text>
<line x1="402.65" y1="893.0" x2="402.65" y2="896.0" stroke="#2a1c1c" stroke-width="0.9"/>
<text transform="translate(406.00,899.4) rotate(-90)" font-size="9.5" text-anchor="end" fill="#111" stroke="#111" stroke-width="0.32" textLength="37.6" lengthAdjust="spacingAndGlyphs">2020-30</text>
<line x1="412.09" y1="893.0" x2="412.09" y2="896.0" stroke="#2a1c1c" stroke-width="0.9"/>
<text transform="translate(415.44,899.4) rotate(-90)" font-size="9.5" text-anchor="end" fill="#111" stroke="#111" stroke-width="0.32" textLength="37.6" lengthAdjust="spacingAndGlyphs">2020-31</text>
<line x1="421.52" y1="893.0" x2="421.52" y2="896.0" stroke="#2a1c1c" stroke-width="0.9"/>
<text transform="translate(424.87,899.4) rotate(-90)" font-size="9.5" text-anchor="end" fill="#111" stroke="#111" stroke-width="0.32" textLength="37.6" lengthAdjust="spacingAndGlyphs">2020-32</text>
<line x1="430.95" y1="893.0" x2="430.95" y2="896.0" stroke="#2a1c1c" stroke-width="0.9"/>
<text transform="translate(434.30,899.4) rotate(-90)" font-size="9.5" text-anchor="end" fill="#111" stroke="#111" stroke-width="0.32" textLength="37.6" lengthAdjust="spacingAndGlyphs">2020-33</text>
<line x1="440.39" y1="893.0" x2="440.39" y2="896.0" stroke="#2a1c1c" stroke-width="0.9"/>
<text transform="translate(443.74,899.4) rotate(-90)" font-size="9.5" text-anchor="end" fill="#111" stroke="#111" stroke-width="0.32" textLength="37.6" lengthAdjust="spacingAndGlyphs">2020-34</text>
<line x1="449.82" y1="893.0" x2="449.82" y2="896.0" stroke="#2a1c1c" stroke-width="0.9"/>
<text transform="translate(453.17,899.4) rotate(-90)" font-size="9.5" text-anchor="end" fill="#111" stroke="#111" stroke-width="0.32" textLength="37.6" lengthAdjust="spacingAndGlyphs">2020-35</text>
<line x1="459.26" y1="893.0" x2="459.26" y2="896.0" stroke="#2a1c1c" stroke-width="0.9"/>
<text transform="translate(462.61,899.4) rotate(-90)" font-size="9.5" text-anchor="end" fill="#111" stroke="#111" stroke-width="0.32" textLength="37.6" lengthAdjust="spacingAndGlyphs">2020-36</text>
<line x1="468.69" y1="893.0" x2="468.69" y2="896.0" stroke="#2a1c1c" stroke-width="0.9"/>
<text transform="translate(472.04,899.4) rotate(-90)" font-size="9.5" text-anchor="end" fill="#111" stroke="#111" stroke-width="0.32" textLength="37.6" lengthAdjust="spacingAndGlyphs">2020-37</text>
<line x1="478.12" y1="893.0" x2="478.12" y2="896.0" stroke="#2a1c1c" stroke-width="0.9"/>
<text transform="translate(481.47,899.4) rotate(-90)" font-size="9.5" text-anchor="end" fill="#111" stroke="#111" stroke-width="0.32" textLength="37.6" lengthAdjust="spacingAndGlyphs">2020-38</text>
<line x1="487.56" y1="893.0" x2="487.56" y2="896.0" stroke="#2a1c1c" stroke-width="0.9"/>
<text transform="translate(490.91,899.4) rotate(-90)" font-size="9.5" text-anchor="end" fill="#111" stroke="#111" stroke-width="0.32" textLength="37.6" lengthAdjust="spacingAndGlyphs">2020-39</text>
<line x1="496.99" y1="893.0" x2="496.99" y2="896.0" stroke="#2a1c1c" stroke-width="0.9"/>
<text transform="translate(500.34,899.4) rotate(-90)" font-size="9.5" text-anchor="end" fill="#111" stroke="#111" stroke-width="0.32" textLength="37.6" lengthAdjust="spacingAndGlyphs">2020-40</text>
<line x1="506.43" y1="893.0" x2="506.43" y2="896.0" stroke="#2a1c1c" stroke-width="0.9"/>
<text transform="translate(509.78,899.4) rotate(-90)" font-size="9.5" text-anchor="end" fill="#111" stroke="#111" stroke-width="0.32" textLength="37.6" lengthAdjust="spacingAndGlyphs">2020-41</text>
<line x1="515.86" y1="893.0" x2="515.86" y2="896.0" stroke="#2a1c1c" stroke-width="0.9"/>
<text transform="translate(519.21,899.4) rotate(-90)" font-size="9.5" text-anchor="end" fill="#111" stroke="#111" stroke-width="0.32" textLength="37.6" lengthAdjust="spacingAndGlyphs">2020-42</text>
<line x1="525.29" y1="893.0" x2="525.29" y2="896.0" stroke="#2a1c1c" stroke-width="0.9"/>
<text transform="translate(528.64,899.4) rotate(-90)" font-size="9.5" text-anchor="end" fill="#111" stroke="#111" stroke-width="0.32" textLength="37.6" lengthAdjust="spacingAndGlyphs">2020-43</text>
<line x1="534.73" y1="893.0" x2="534.73" y2="896.0" stroke="#2a1c1c" stroke-width="0.9"/>
<text transform="translate(538.08,899.4) rotate(-90)" font-size="9.5" text-anchor="end" fill="#111" stroke="#111" stroke-width="0.32" textLength="37.6" lengthAdjust="spacingAndGlyphs">2020-44</text>
<line x1="544.16" y1="893.0" x2="544.16" y2="896.0" stroke="#2a1c1c" stroke-width="0.9"/>
<text transform="translate(547.51,899.4) rotate(-90)" font-size="9.5" text-anchor="end" fill="#111" stroke="#111" stroke-width="0.32" textLength="37.6" lengthAdjust="spacingAndGlyphs">2020-45</text>
<line x1="553.60" y1="893.0" x2="553.60" y2="896.0" stroke="#2a1c1c" stroke-width="0.9"/>
<text transform="translate(556.95,899.4) rotate(-90)" font-size="9.5" text-anchor="end" fill="#111" stroke="#111" stroke-width="0.32" textLength="37.6" lengthAdjust="spacingAndGlyphs">2020-46</text>
<line x1="563.03" y1="893.0" x2="563.03" y2="896.0" stroke="#2a1c1c" stroke-width="0.9"/>
<text transform="translate(566.38,899.4) rotate(-90)" font-size="9.5" text-anchor="end" fill="#111" stroke="#111" stroke-width="0.32" textLength="37.6" lengthAdjust="spacingAndGlyphs">2020-47</text>
<line x1="572.46" y1="893.0" x2="572.46" y2="896.0" stroke="#2a1c1c" stroke-width="0.9"/>
<text transform="translate(575.81,899.4) rotate(-90)" font-size="9.5" text-anchor="end" fill="#111" stroke="#111" stroke-width="0.32" textLength="37.6" lengthAdjust="spacingAndGlyphs">2020-48</text>
<line x1="581.90" y1="893.0" x2="581.90" y2="896.0" stroke="#2a1c1c" stroke-width="0.9"/>
<text transform="translate(585.25,899.4) rotate(-90)" font-size="9.5" text-anchor="end" fill="#111" stroke="#111" stroke-width="0.32" textLength="37.6" lengthAdjust="spacingAndGlyphs">2020-49</text>
<line x1="591.33" y1="893.0" x2="591.33" y2="896.0" stroke="#2a1c1c" stroke-width="0.9"/>
<text transform="translate(594.68,899.4) rotate(-90)" font-size="9.5" text-anchor="end" fill="#111" stroke="#111" stroke-width="0.32" textLength="37.6" lengthAdjust="spacingAndGlyphs">2020-50</text>
<line x1="600.77" y1="893.0" x2="600.77" y2="896.0" stroke="#2a1c1c" stroke-width="0.9"/>
<text transform="translate(604.12,899.4) rotate(-90)" font-size="9.5" text-anchor="end" fill="#111" stroke="#111" stroke-width="0.32" textLength="37.6" lengthAdjust="spacingAndGlyphs">2020-51</text>
<line x1="610.20" y1="893.0" x2="610.20" y2="896.0" stroke="#2a1c1c" stroke-width="0.9"/>
<text transform="translate(613.55,899.4) rotate(-90)" font-size="9.5" text-anchor="end" fill="#111" stroke="#111" stroke-width="0.32" textLength="37.6" lengthAdjust="spacingAndGlyphs">2020-52</text>
<line x1="619.63" y1="893.0" x2="619.63" y2="896.0" stroke="#2a1c1c" stroke-width="0.9"/>
<text transform="translate(622.98,899.4) rotate(-90)" font-size="9.5" text-anchor="end" fill="#111" stroke="#111" stroke-width="0.32" textLength="37.6" lengthAdjust="spacingAndGlyphs">2020-53</text>
<line x1="629.07" y1="893.0" x2="629.07" y2="896.0" stroke="#2a1c1c" stroke-width="0.9"/>
<text transform="translate(632.42,899.4) rotate(-90)" font-size="9.5" text-anchor="end" fill="#111" stroke="#111" stroke-width="0.32" textLength="37.6" lengthAdjust="spacingAndGlyphs">2021-01</text>
<line x1="638.50" y1="893.0" x2="638.50" y2="896.0" stroke="#2a1c1c" stroke-width="0.9"/>
<text transform="translate(641.85,899.4) rotate(-90)" font-size="9.5" text-anchor="end" fill="#111" stroke="#111" stroke-width="0.32" textLength="37.6" lengthAdjust="spacingAndGlyphs">2021-02</text>
<line x1="647.94" y1="893.0" x2="647.94" y2="896.0" stroke="#2a1c1c" stroke-width="0.9"/>
<text transform="translate(651.29,899.4) rotate(-90)" font-size="9.5" text-anchor="end" fill="#111" stroke="#111" stroke-width="0.32" textLength="37.6" lengthAdjust="spacingAndGlyphs">2021-03</text>
<line x1="657.37" y1="893.0" x2="657.37" y2="896.0" stroke="#2a1c1c" stroke-width="0.9"/>
<text transform="translate(660.72,899.4) rotate(-90)" font-size="9.5" text-anchor="end" fill="#111" stroke="#111" stroke-width="0.32" textLength="37.6" lengthAdjust="spacingAndGlyphs">2021-04</text>
<line x1="666.80" y1="893.0" x2="666.80" y2="896.0" stroke="#2a1c1c" stroke-width="0.9"/>
<text transform="translate(670.15,899.4) rotate(-90)" font-size="9.5" text-anchor="end" fill="#111" stroke="#111" stroke-width="0.32" textLength="37.6" lengthAdjust="spacingAndGlyphs">2021-05</text>
<line x1="676.24" y1="893.0" x2="676.24" y2="896.0" stroke="#2a1c1c" stroke-width="0.9"/>
<text transform="translate(679.59,899.4) rotate(-90)" font-size="9.5" text-anchor="end" fill="#111" stroke="#111" stroke-width="0.32" textLength="37.6" lengthAdjust="spacingAndGlyphs">2021-06</text>
<line x1="685.67" y1="893.0" x2="685.67" y2="896.0" stroke="#2a1c1c" stroke-width="0.9"/>
<text transform="translate(689.02,899.4) rotate(-90)" font-size="9.5" text-anchor="end" fill="#111" stroke="#111" stroke-width="0.32" textLength="37.6" lengthAdjust="spacingAndGlyphs">2021-07</text>
<line x1="695.11" y1="893.0" x2="695.11" y2="896.0" stroke="#2a1c1c" stroke-width="0.9"/>
<text transform="translate(698.46,899.4) rotate(-90)" font-size="9.5" text-anchor="end" fill="#111" stroke="#111" stroke-width="0.32" textLength="37.6" lengthAdjust="spacingAndGlyphs">2021-08</text>
<line x1="704.54" y1="893.0" x2="704.54" y2="896.0" stroke="#2a1c1c" stroke-width="0.9"/>
<text transform="translate(707.89,899.4) rotate(-90)" font-size="9.5" text-anchor="end" fill="#111" stroke="#111" stroke-width="0.32" textLength="37.6" lengthAdjust="spacingAndGlyphs">2021-09</text>
<line x1="713.97" y1="893.0" x2="713.97" y2="896.0" stroke="#2a1c1c" stroke-width="0.9"/>
<text transform="translate(717.32,899.4) rotate(-90)" font-size="9.5" text-anchor="end" fill="#111" stroke="#111" stroke-width="0.32" textLength="37.6" lengthAdjust="spacingAndGlyphs">2021-10</text>
<line x1="723.41" y1="893.0" x2="723.41" y2="896.0" stroke="#2a1c1c" stroke-width="0.9"/>
<text transform="translate(726.76,899.4) rotate(-90)" font-size="9.5" text-anchor="end" fill="#111" stroke="#111" stroke-width="0.32" textLength="37.6" lengthAdjust="spacingAndGlyphs">2021-11</text>
<line x1="732.84" y1="893.0" x2="732.84" y2="896.0" stroke="#2a1c1c" stroke-width="0.9"/>
<text transform="translate(736.19,899.4) rotate(-90)" font-size="9.5" text-anchor="end" fill="#111" stroke="#111" stroke-width="0.32" textLength="37.6" lengthAdjust="spacingAndGlyphs">2021-12</text>
<line x1="742.28" y1="893.0" x2="742.28" y2="896.0" stroke="#2a1c1c" stroke-width="0.9"/>
<text transform="translate(745.63,899.4) rotate(-90)" font-size="9.5" text-anchor="end" fill="#111" stroke="#111" stroke-width="0.32" textLength="37.6" lengthAdjust="spacingAndGlyphs">2021-13</text>
<line x1="751.71" y1="893.0" x2="751.71" y2="896.0" stroke="#2a1c1c" stroke-width="0.9"/>
<text transform="translate(755.06,899.4) rotate(-90)" font-size="9.5" text-anchor="end" fill="#111" stroke="#111" stroke-width="0.32" textLength="37.6" lengthAdjust="spacingAndGlyphs">2021-14</text>
<line x1="761.14" y1="893.0" x2="761.14" y2="896.0" stroke="#2a1c1c" stroke-width="0.9"/>
<text transform="translate(764.49,899.4) rotate(-90)" font-size="9.5" text-anchor="end" fill="#111" stroke="#111" stroke-width="0.32" textLength="37.6" lengthAdjust="spacingAndGlyphs">2021-15</text>
<line x1="770.58" y1="893.0" x2="770.58" y2="896.0" stroke="#2a1c1c" stroke-width="0.9"/>
<text transform="translate(773.93,899.4) rotate(-90)" font-size="9.5" text-anchor="end" fill="#111" stroke="#111" stroke-width="0.32" textLength="37.6" lengthAdjust="spacingAndGlyphs">2021-16</text>
<line x1="780.01" y1="893.0" x2="780.01" y2="896.0" stroke="#2a1c1c" stroke-width="0.9"/>
<text transform="translate(783.36,899.4) rotate(-90)" font-size="9.5" text-anchor="end" fill="#111" stroke="#111" stroke-width="0.32" textLength="37.6" lengthAdjust="spacingAndGlyphs">2021-17</text>
<line x1="789.45" y1="893.0" x2="789.45" y2="896.0" stroke="#2a1c1c" stroke-width="0.9"/>
<text transform="translate(792.80,899.4) rotate(-90)" font-size="9.5" text-anchor="end" fill="#111" stroke="#111" stroke-width="0.32" textLength="37.6" lengthAdjust="spacingAndGlyphs">2021-18</text>
<line x1="798.88" y1="893.0" x2="798.88" y2="896.0" stroke="#2a1c1c" stroke-width="0.9"/>
<text transform="translate(802.23,899.4) rotate(-90)" font-size="9.5" text-anchor="end" fill="#111" stroke="#111" stroke-width="0.32" textLength="37.6" lengthAdjust="spacingAndGlyphs">2021-19</text>
<line x1="808.31" y1="893.0" x2="808.31" y2="896.0" stroke="#2a1c1c" stroke-width="0.9"/>
<text transform="translate(811.66,899.4) rotate(-90)" font-size="9.5" text-anchor="end" fill="#111" stroke="#111" stroke-width="0.32" textLength="37.6" lengthAdjust="spacingAndGlyphs">2021-20</text>
<line x1="817.75" y1="893.0" x2="817.75" y2="896.0" stroke="#2a1c1c" stroke-width="0.9"/>
<text transform="translate(821.10,899.4) rotate(-90)" font-size="9.5" text-anchor="end" fill="#111" stroke="#111" stroke-width="0.32" textLength="37.6" lengthAdjust="spacingAndGlyphs">2021-21</text>
<line x1="827.18" y1="893.0" x2="827.18" y2="896.0" stroke="#2a1c1c" stroke-width="0.9"/>
<text transform="translate(830.53,899.4) rotate(-90)" font-size="9.5" text-anchor="end" fill="#111" stroke="#111" stroke-width="0.32" textLength="37.6" lengthAdjust="spacingAndGlyphs">2021-22</text>
<line x1="836.62" y1="893.0" x2="836.62" y2="896.0" stroke="#2a1c1c" stroke-width="0.9"/>
<text transform="translate(839.97,899.4) rotate(-90)" font-size="9.5" text-anchor="end" fill="#111" stroke="#111" stroke-width="0.32" textLength="37.6" lengthAdjust="spacingAndGlyphs">2021-23</text>
<line x1="846.05" y1="893.0" x2="846.05" y2="896.0" stroke="#2a1c1c" stroke-width="0.9"/>
<text transform="translate(849.40,899.4) rotate(-90)" font-size="9.5" text-anchor="end" fill="#111" stroke="#111" stroke-width="0.32" textLength="37.6" lengthAdjust="spacingAndGlyphs">2021-24</text>
<line x1="855.48" y1="893.0" x2="855.48" y2="896.0" stroke="#2a1c1c" stroke-width="0.9"/>
<text transform="translate(858.83,899.4) rotate(-90)" font-size="9.5" text-anchor="end" fill="#111" stroke="#111" stroke-width="0.32" textLength="37.6" lengthAdjust="spacingAndGlyphs">2021-25</text>
<line x1="864.92" y1="893.0" x2="864.92" y2="896.0" stroke="#2a1c1c" stroke-width="0.9"/>
<text transform="translate(868.27,899.4) rotate(-90)" font-size="9.5" text-anchor="end" fill="#111" stroke="#111" stroke-width="0.32" textLength="37.6" lengthAdjust="spacingAndGlyphs">2021-26</text>
<line x1="874.35" y1="893.0" x2="874.35" y2="896.0" stroke="#2a1c1c" stroke-width="0.9"/>
<text transform="translate(877.70,899.4) rotate(-90)" font-size="9.5" text-anchor="end" fill="#111" stroke="#111" stroke-width="0.32" textLength="37.6" lengthAdjust="spacingAndGlyphs">2021-27</text>
<line x1="883.79" y1="893.0" x2="883.79" y2="896.0" stroke="#2a1c1c" stroke-width="0.9"/>
<text transform="translate(887.14,899.4) rotate(-90)" font-size="9.5" text-anchor="end" fill="#111" stroke="#111" stroke-width="0.32" textLength="37.6" lengthAdjust="spacingAndGlyphs">2021-28</text>
<line x1="893.22" y1="893.0" x2="893.22" y2="896.0" stroke="#2a1c1c" stroke-width="0.9"/>
<text transform="translate(896.57,899.4) rotate(-90)" font-size="9.5" text-anchor="end" fill="#111" stroke="#111" stroke-width="0.32" textLength="37.6" lengthAdjust="spacingAndGlyphs">2021-29</text>
<line x1="902.65" y1="893.0" x2="902.65" y2="896.0" stroke="#2a1c1c" stroke-width="0.9"/>
<text transform="translate(906.00,899.4) rotate(-90)" font-size="9.5" text-anchor="end" fill="#111" stroke="#111" stroke-width="0.32" textLength="37.6" lengthAdjust="spacingAndGlyphs">2021-30</text>
<line x1="912.09" y1="893.0" x2="912.09" y2="896.0" stroke="#2a1c1c" stroke-width="0.9"/>
<text transform="translate(915.44,899.4) rotate(-90)" font-size="9.5" text-anchor="end" fill="#111" stroke="#111" stroke-width="0.32" textLength="37.6" lengthAdjust="spacingAndGlyphs">2021-31</text>
<line x1="921.52" y1="893.0" x2="921.52" y2="896.0" stroke="#2a1c1c" stroke-width="0.9"/>
<text transform="translate(924.87,899.4) rotate(-90)" font-size="9.5" text-anchor="end" fill="#111" stroke="#111" stroke-width="0.32" textLength="37.6" lengthAdjust="spacingAndGlyphs">2021-32</text>
<line x1="930.96" y1="893.0" x2="930.96" y2="896.0" stroke="#2a1c1c" stroke-width="0.9"/>
<text transform="translate(934.31,899.4) rotate(-90)" font-size="9.5" text-anchor="end" fill="#111" stroke="#111" stroke-width="0.32" textLength="37.6" lengthAdjust="spacingAndGlyphs">2021-33</text>
<line x1="940.39" y1="893.0" x2="940.39" y2="896.0" stroke="#2a1c1c" stroke-width="0.9"/>
<text transform="translate(943.74,899.4) rotate(-90)" font-size="9.5" text-anchor="end" fill="#111" stroke="#111" stroke-width="0.32" textLength="37.6" lengthAdjust="spacingAndGlyphs">2021-34</text>
<line x1="949.82" y1="893.0" x2="949.82" y2="896.0" stroke="#2a1c1c" stroke-width="0.9"/>
<text transform="translate(953.17,899.4) rotate(-90)" font-size="9.5" text-anchor="end" fill="#111" stroke="#111" stroke-width="0.32" textLength="37.6" lengthAdjust="spacingAndGlyphs">2021-35</text>
<line x1="959.26" y1="893.0" x2="959.26" y2="896.0" stroke="#2a1c1c" stroke-width="0.9"/>
<text transform="translate(962.61,899.4) rotate(-90)" font-size="9.5" text-anchor="end" fill="#111" stroke="#111" stroke-width="0.32" textLength="37.6" lengthAdjust="spacingAndGlyphs">2021-36</text>
<line x1="968.69" y1="893.0" x2="968.69" y2="896.0" stroke="#2a1c1c" stroke-width="0.9"/>
<text transform="translate(972.04,899.4) rotate(-90)" font-size="9.5" text-anchor="end" fill="#111" stroke="#111" stroke-width="0.32" textLength="37.6" lengthAdjust="spacingAndGlyphs">2021-37</text>
<line x1="978.13" y1="893.0" x2="978.13" y2="896.0" stroke="#2a1c1c" stroke-width="0.9"/>
<text transform="translate(981.48,899.4) rotate(-90)" font-size="9.5" text-anchor="end" fill="#111" stroke="#111" stroke-width="0.32" textLength="37.6" lengthAdjust="spacingAndGlyphs">2021-38</text>
<line x1="987.56" y1="893.0" x2="987.56" y2="896.0" stroke="#2a1c1c" stroke-width="0.9"/>
<text transform="translate(990.91,899.4) rotate(-90)" font-size="9.5" text-anchor="end" fill="#111" stroke="#111" stroke-width="0.32" textLength="37.6" lengthAdjust="spacingAndGlyphs">2021-39</text>
<line x1="996.99" y1="893.0" x2="996.99" y2="896.0" stroke="#2a1c1c" stroke-width="0.9"/>
<text transform="translate(1000.34,899.4) rotate(-90)" font-size="9.5" text-anchor="end" fill="#111" stroke="#111" stroke-width="0.32" textLength="37.6" lengthAdjust="spacingAndGlyphs">2021-40</text>
<line x1="1006.43" y1="893.0" x2="1006.43" y2="896.0" stroke="#2a1c1c" stroke-width="0.9"/>
<text transform="translate(1009.78,899.4) rotate(-90)" font-size="9.5" text-anchor="end" fill="#111" stroke="#111" stroke-width="0.32" textLength="37.6" lengthAdjust="spacingAndGlyphs">2021-41</text>
<line x1="1015.86" y1="893.0" x2="1015.86" y2="896.0" stroke="#2a1c1c" stroke-width="0.9"/>
<text transform="translate(1019.21,899.4) rotate(-90)" font-size="9.5" text-anchor="end" fill="#111" stroke="#111" stroke-width="0.32" textLength="37.6" lengthAdjust="spacingAndGlyphs">2021-42</text>
<line x1="1025.30" y1="893.0" x2="1025.30" y2="896.0" stroke="#2a1c1c" stroke-width="0.9"/>
<text transform="translate(1028.65,899.4) rotate(-90)" font-size="9.5" text-anchor="end" fill="#111" stroke="#111" stroke-width="0.32" textLength="37.6" lengthAdjust="spacingAndGlyphs">2021-43</text>
<line x1="1034.73" y1="893.0" x2="1034.73" y2="896.0" stroke="#2a1c1c" stroke-width="0.9"/>
<text transform="translate(1038.08,899.4) rotate(-90)" font-size="9.5" text-anchor="end" fill="#111" stroke="#111" stroke-width="0.32" textLength="37.6" lengthAdjust="spacingAndGlyphs">2021-44</text>
<line x1="1044.16" y1="893.0" x2="1044.16" y2="896.0" stroke="#2a1c1c" stroke-width="0.9"/>
<text transform="translate(1047.51,899.4) rotate(-90)" font-size="9.5" text-anchor="end" fill="#111" stroke="#111" stroke-width="0.32" textLength="37.6" lengthAdjust="spacingAndGlyphs">2021-45</text>
<text transform="translate(56.5,706.5) rotate(-90)" font-size="11.6" font-weight="700" letter-spacing="1.62" text-anchor="middle" fill="#111" stroke="#111" stroke-width="0.6">NÚMERO DE PRUEBAS</text>
</svg>
<div style="position:absolute;left:51px;top:982.5px;width:15px;height:15px;background:#840404"></div>
<div style="position:absolute;left:151px;top:982.5px;width:15px;height:15px;background:#fcc210"></div>
<div class="t" style="left:71.31px;top:985.00px;font-size:8.58px;font-weight:700;color:#111;letter-spacing:1.888px;transform:scaleX(1.1730);-webkit-text-stroke:0.7px #111;">POSITIVAS</div>
<div class="t" style="left:171.31px;top:985.00px;font-size:8.58px;font-weight:700;color:#111;letter-spacing:1.888px;transform:scaleX(1.1766);-webkit-text-stroke:0.7px #111;">NEGATIVAS</div>
<div class="t" style="left:43.70px;top:1026.00px;font-size:9.23px;font-weight:700;color:#111;letter-spacing:0.738px;transform:scaleX(1.0685);-webkit-text-stroke:0.55px #111;">- LA ÚLTIMA SEMANA EL 33.4% DE LAS PRUEBAS FUERON POSITIVAS</div>
<div class="t" style="left:489.66px;top:959.00px;font-size:10.47px;font-weight:700;color:#111;letter-spacing:1.256px;transform:scaleX(1.1279);-webkit-text-stroke:0.7px #111;">SEMANA EPIDEMIOLÓGICA</div>
<div class="t" style="left:900.66px;top:1041.00px;font-size:9.81px;font-weight:400;color:#111;letter-spacing:0.000px;transform:scaleX(0.9251);-webkit-text-stroke:0.25px #111;white-space:pre;">CORTE AL 26  DE NOVIEMBRE DE 2021</div>
<div class="t" style="left:408.96px;top:1051.00px;font-size:9.81px;font-weight:400;color:#111;letter-spacing:0.000px;transform:scaleX(0.8222);-webkit-text-stroke:0.25px #111;">FUENTE: SECRETARÍA DE SALUD/SISTEMA NACIONAL DE VIGILANCIA EPIDEMIOLÓGICA/SISTEMA DE VIGILANCIA EPIDEMIOLÓGICA DE ENFERMEDADES RESPIRATORIAS</div>
</body></html>
